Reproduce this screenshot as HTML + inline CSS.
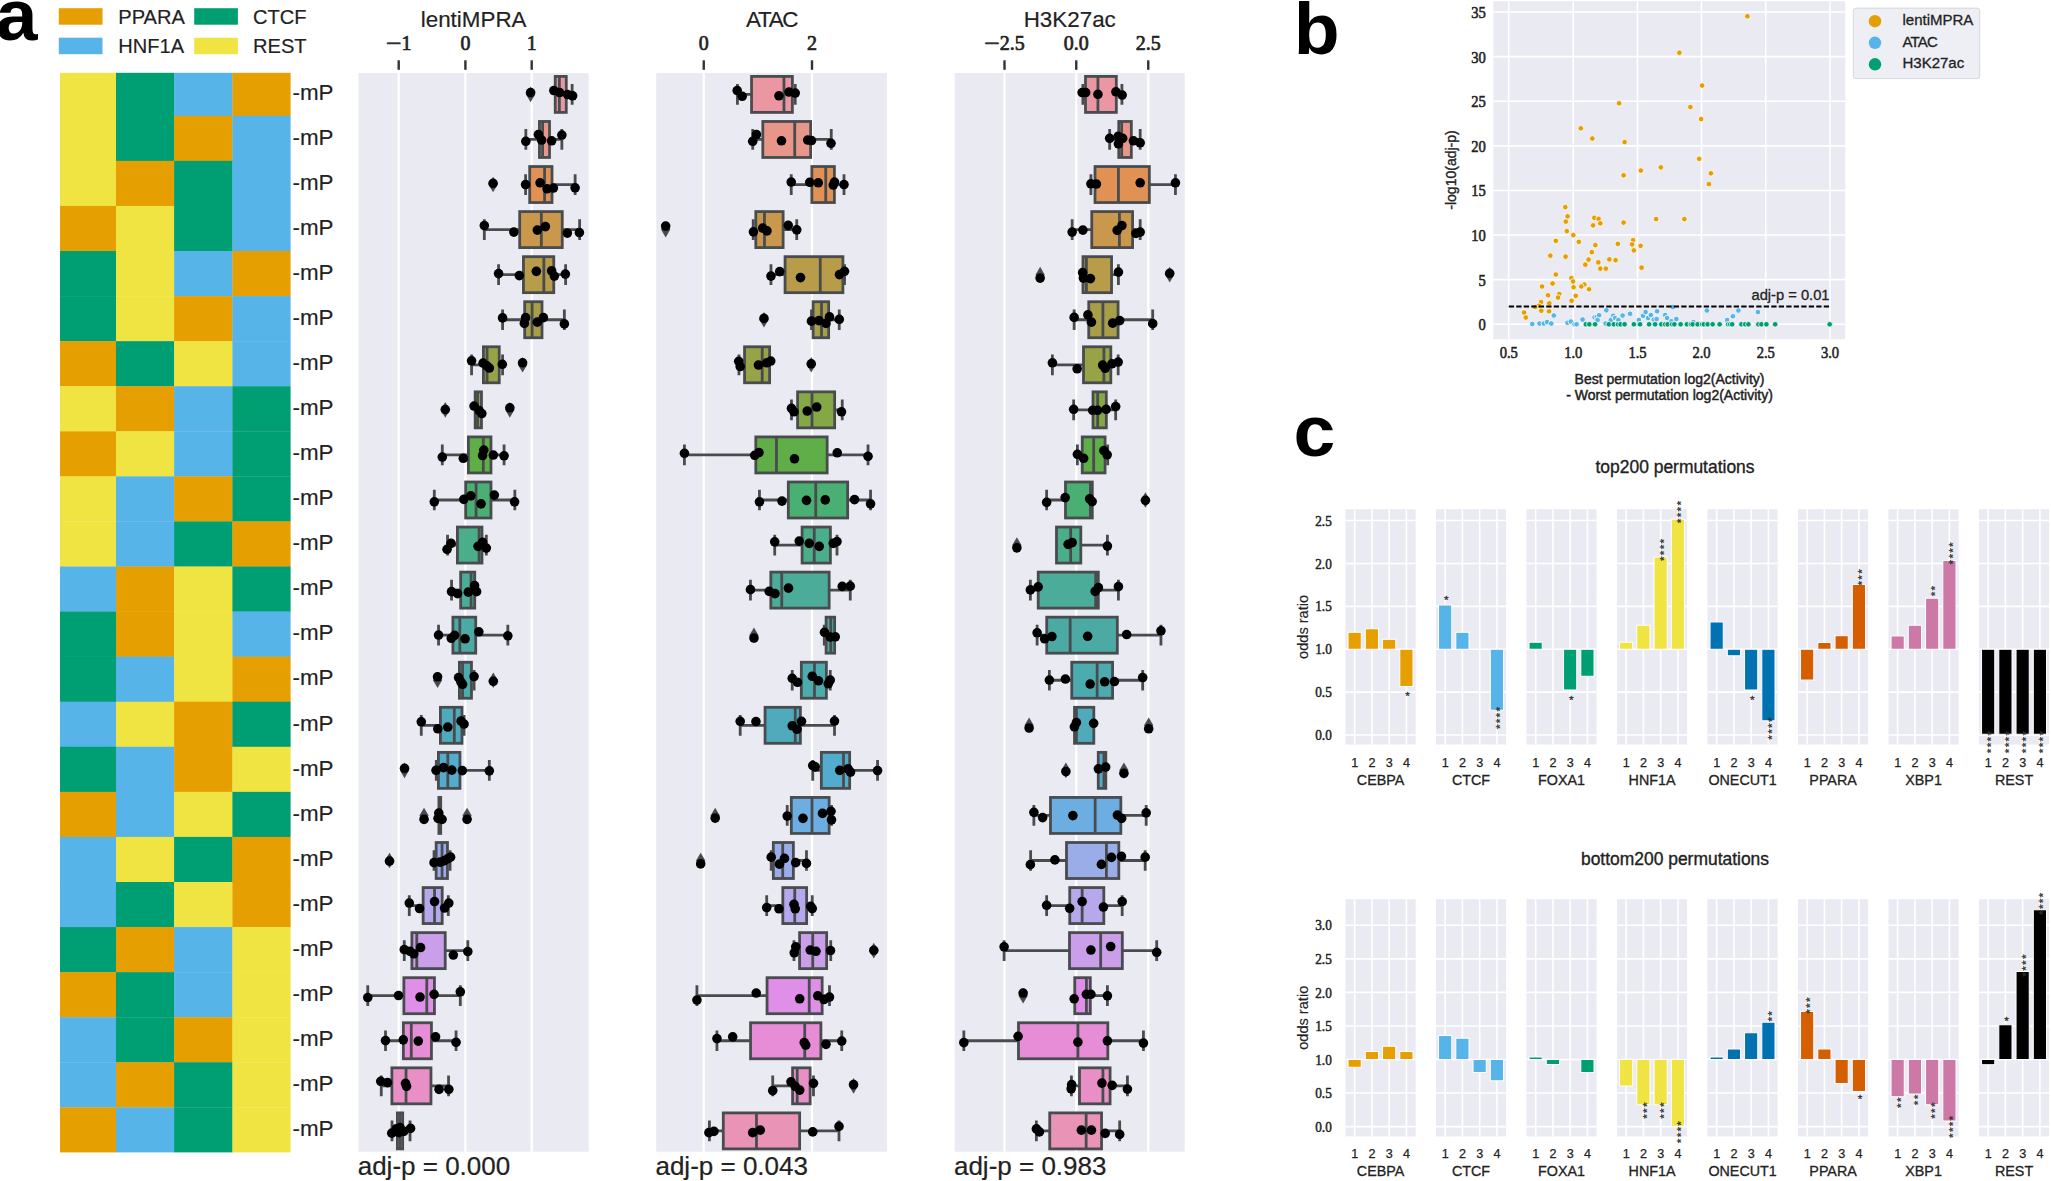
<!DOCTYPE html>
<html lang="en"><head><meta charset="utf-8"><title>Figure</title>
<style>html,body{margin:0;padding:0;background:#fff}svg{display:block}text{white-space:pre}</style>
</head><body>
<svg width="2051" height="1181" viewBox="0 0 2051 1181">
<rect width="2051" height="1181" fill="#ffffff"/>
<text transform="translate(-4.2,40.0) scale(1.05,1)" font-size="71.5" font-weight="bold" font-family="Liberation Sans, Arial, Helvetica, sans-serif" fill="#000">a</text>
<text transform="translate(1293.8,54.0) scale(1.05,1)" font-size="71.5" font-weight="bold" font-family="Liberation Sans, Arial, Helvetica, sans-serif" fill="#000">b</text>
<text transform="translate(1293.6,455.6) scale(1.05,1)" font-size="71.5" font-weight="bold" font-family="Liberation Sans, Arial, Helvetica, sans-serif" fill="#000">c</text>
<rect x="58.8" y="8.2" width="43.7" height="16.5" fill="#E69F00"/>
<rect x="58.8" y="37.7" width="43.7" height="16.5" fill="#56B4E9"/>
<rect x="194.2" y="8.2" width="43.7" height="16.5" fill="#009E73"/>
<rect x="194.2" y="37.7" width="43.7" height="16.5" fill="#F0E442"/>
<text transform="translate(118.30,23.80) scale(1,1.0)" font-size="20.1" text-anchor="start" font-family="Liberation Sans, Arial, Helvetica, sans-serif" fill="#222" stroke="#222" stroke-width="0.16">PPARA</text>
<text transform="translate(118.30,53.00) scale(1,1.0)" font-size="20.1" text-anchor="start" font-family="Liberation Sans, Arial, Helvetica, sans-serif" fill="#222" stroke="#222" stroke-width="0.16">HNF1A</text>
<text transform="translate(253.00,23.80) scale(1,1.0)" font-size="20.1" text-anchor="start" font-family="Liberation Sans, Arial, Helvetica, sans-serif" fill="#222" stroke="#222" stroke-width="0.16">CTCF</text>
<text transform="translate(253.00,53.00) scale(1,1.0)" font-size="20.1" text-anchor="start" font-family="Liberation Sans, Arial, Helvetica, sans-serif" fill="#222" stroke="#222" stroke-width="0.16">REST</text>
<g>
<rect x="60.00" y="72.80" width="56.30" height="43.30" fill="#F0E442"/>
<rect x="116.00" y="72.80" width="58.40" height="43.30" fill="#009E73"/>
<rect x="174.10" y="72.80" width="58.60" height="43.30" fill="#56B4E9"/>
<rect x="232.40" y="72.80" width="58.20" height="43.30" fill="#E69F00"/>
<rect x="60.00" y="115.80" width="56.30" height="45.37" fill="#F0E442"/>
<rect x="116.00" y="115.80" width="58.40" height="45.37" fill="#009E73"/>
<rect x="174.10" y="115.80" width="58.60" height="45.37" fill="#E69F00"/>
<rect x="232.40" y="115.80" width="58.20" height="45.37" fill="#56B4E9"/>
<rect x="60.00" y="160.87" width="56.30" height="45.37" fill="#F0E442"/>
<rect x="116.00" y="160.87" width="58.40" height="45.37" fill="#E69F00"/>
<rect x="174.10" y="160.87" width="58.60" height="45.37" fill="#009E73"/>
<rect x="232.40" y="160.87" width="58.20" height="45.37" fill="#56B4E9"/>
<rect x="60.00" y="205.94" width="56.30" height="45.37" fill="#E69F00"/>
<rect x="116.00" y="205.94" width="58.40" height="45.37" fill="#F0E442"/>
<rect x="174.10" y="205.94" width="58.60" height="45.37" fill="#009E73"/>
<rect x="232.40" y="205.94" width="58.20" height="45.37" fill="#56B4E9"/>
<rect x="60.00" y="251.01" width="56.30" height="45.37" fill="#009E73"/>
<rect x="116.00" y="251.01" width="58.40" height="45.37" fill="#F0E442"/>
<rect x="174.10" y="251.01" width="58.60" height="45.37" fill="#56B4E9"/>
<rect x="232.40" y="251.01" width="58.20" height="45.37" fill="#E69F00"/>
<rect x="60.00" y="296.08" width="56.30" height="45.37" fill="#009E73"/>
<rect x="116.00" y="296.08" width="58.40" height="45.37" fill="#F0E442"/>
<rect x="174.10" y="296.08" width="58.60" height="45.37" fill="#E69F00"/>
<rect x="232.40" y="296.08" width="58.20" height="45.37" fill="#56B4E9"/>
<rect x="60.00" y="341.15" width="56.30" height="45.37" fill="#E69F00"/>
<rect x="116.00" y="341.15" width="58.40" height="45.37" fill="#009E73"/>
<rect x="174.10" y="341.15" width="58.60" height="45.37" fill="#F0E442"/>
<rect x="232.40" y="341.15" width="58.20" height="45.37" fill="#56B4E9"/>
<rect x="60.00" y="386.22" width="56.30" height="45.37" fill="#F0E442"/>
<rect x="116.00" y="386.22" width="58.40" height="45.37" fill="#E69F00"/>
<rect x="174.10" y="386.22" width="58.60" height="45.37" fill="#56B4E9"/>
<rect x="232.40" y="386.22" width="58.20" height="45.37" fill="#009E73"/>
<rect x="60.00" y="431.29" width="56.30" height="45.37" fill="#E69F00"/>
<rect x="116.00" y="431.29" width="58.40" height="45.37" fill="#F0E442"/>
<rect x="174.10" y="431.29" width="58.60" height="45.37" fill="#56B4E9"/>
<rect x="232.40" y="431.29" width="58.20" height="45.37" fill="#009E73"/>
<rect x="60.00" y="476.36" width="56.30" height="45.37" fill="#F0E442"/>
<rect x="116.00" y="476.36" width="58.40" height="45.37" fill="#56B4E9"/>
<rect x="174.10" y="476.36" width="58.60" height="45.37" fill="#E69F00"/>
<rect x="232.40" y="476.36" width="58.20" height="45.37" fill="#009E73"/>
<rect x="60.00" y="521.43" width="56.30" height="45.37" fill="#F0E442"/>
<rect x="116.00" y="521.43" width="58.40" height="45.37" fill="#56B4E9"/>
<rect x="174.10" y="521.43" width="58.60" height="45.37" fill="#009E73"/>
<rect x="232.40" y="521.43" width="58.20" height="45.37" fill="#E69F00"/>
<rect x="60.00" y="566.50" width="56.30" height="45.37" fill="#56B4E9"/>
<rect x="116.00" y="566.50" width="58.40" height="45.37" fill="#E69F00"/>
<rect x="174.10" y="566.50" width="58.60" height="45.37" fill="#F0E442"/>
<rect x="232.40" y="566.50" width="58.20" height="45.37" fill="#009E73"/>
<rect x="60.00" y="611.57" width="56.30" height="45.37" fill="#009E73"/>
<rect x="116.00" y="611.57" width="58.40" height="45.37" fill="#E69F00"/>
<rect x="174.10" y="611.57" width="58.60" height="45.37" fill="#F0E442"/>
<rect x="232.40" y="611.57" width="58.20" height="45.37" fill="#56B4E9"/>
<rect x="60.00" y="656.64" width="56.30" height="45.37" fill="#009E73"/>
<rect x="116.00" y="656.64" width="58.40" height="45.37" fill="#56B4E9"/>
<rect x="174.10" y="656.64" width="58.60" height="45.37" fill="#F0E442"/>
<rect x="232.40" y="656.64" width="58.20" height="45.37" fill="#E69F00"/>
<rect x="60.00" y="701.71" width="56.30" height="45.37" fill="#56B4E9"/>
<rect x="116.00" y="701.71" width="58.40" height="45.37" fill="#F0E442"/>
<rect x="174.10" y="701.71" width="58.60" height="45.37" fill="#E69F00"/>
<rect x="232.40" y="701.71" width="58.20" height="45.37" fill="#009E73"/>
<rect x="60.00" y="746.78" width="56.30" height="45.37" fill="#009E73"/>
<rect x="116.00" y="746.78" width="58.40" height="45.37" fill="#56B4E9"/>
<rect x="174.10" y="746.78" width="58.60" height="45.37" fill="#E69F00"/>
<rect x="232.40" y="746.78" width="58.20" height="45.37" fill="#F0E442"/>
<rect x="60.00" y="791.85" width="56.30" height="45.37" fill="#E69F00"/>
<rect x="116.00" y="791.85" width="58.40" height="45.37" fill="#56B4E9"/>
<rect x="174.10" y="791.85" width="58.60" height="45.37" fill="#F0E442"/>
<rect x="232.40" y="791.85" width="58.20" height="45.37" fill="#009E73"/>
<rect x="60.00" y="836.92" width="56.30" height="45.37" fill="#56B4E9"/>
<rect x="116.00" y="836.92" width="58.40" height="45.37" fill="#F0E442"/>
<rect x="174.10" y="836.92" width="58.60" height="45.37" fill="#009E73"/>
<rect x="232.40" y="836.92" width="58.20" height="45.37" fill="#E69F00"/>
<rect x="60.00" y="881.99" width="56.30" height="45.37" fill="#56B4E9"/>
<rect x="116.00" y="881.99" width="58.40" height="45.37" fill="#009E73"/>
<rect x="174.10" y="881.99" width="58.60" height="45.37" fill="#F0E442"/>
<rect x="232.40" y="881.99" width="58.20" height="45.37" fill="#E69F00"/>
<rect x="60.00" y="927.06" width="56.30" height="45.37" fill="#009E73"/>
<rect x="116.00" y="927.06" width="58.40" height="45.37" fill="#E69F00"/>
<rect x="174.10" y="927.06" width="58.60" height="45.37" fill="#56B4E9"/>
<rect x="232.40" y="927.06" width="58.20" height="45.37" fill="#F0E442"/>
<rect x="60.00" y="972.13" width="56.30" height="45.37" fill="#E69F00"/>
<rect x="116.00" y="972.13" width="58.40" height="45.37" fill="#009E73"/>
<rect x="174.10" y="972.13" width="58.60" height="45.37" fill="#56B4E9"/>
<rect x="232.40" y="972.13" width="58.20" height="45.37" fill="#F0E442"/>
<rect x="60.00" y="1017.20" width="56.30" height="45.37" fill="#56B4E9"/>
<rect x="116.00" y="1017.20" width="58.40" height="45.37" fill="#009E73"/>
<rect x="174.10" y="1017.20" width="58.60" height="45.37" fill="#E69F00"/>
<rect x="232.40" y="1017.20" width="58.20" height="45.37" fill="#F0E442"/>
<rect x="60.00" y="1062.27" width="56.30" height="45.37" fill="#56B4E9"/>
<rect x="116.00" y="1062.27" width="58.40" height="45.37" fill="#E69F00"/>
<rect x="174.10" y="1062.27" width="58.60" height="45.37" fill="#009E73"/>
<rect x="232.40" y="1062.27" width="58.20" height="45.37" fill="#F0E442"/>
<rect x="60.00" y="1107.34" width="56.30" height="45.07" fill="#E69F00"/>
<rect x="116.00" y="1107.34" width="58.40" height="45.07" fill="#56B4E9"/>
<rect x="174.10" y="1107.34" width="58.60" height="45.07" fill="#009E73"/>
<rect x="232.40" y="1107.34" width="58.20" height="45.07" fill="#F0E442"/>
</g>
<text transform="translate(292.50,99.56) scale(1,1.0)" font-size="22.4" text-anchor="start" font-family="Liberation Sans, Arial, Helvetica, sans-serif" fill="#222" stroke="#222" stroke-width="0.18">-mP</text>
<text transform="translate(292.50,144.64) scale(1,1.0)" font-size="22.4" text-anchor="start" font-family="Liberation Sans, Arial, Helvetica, sans-serif" fill="#222" stroke="#222" stroke-width="0.18">-mP</text>
<text transform="translate(292.50,189.71) scale(1,1.0)" font-size="22.4" text-anchor="start" font-family="Liberation Sans, Arial, Helvetica, sans-serif" fill="#222" stroke="#222" stroke-width="0.18">-mP</text>
<text transform="translate(292.50,234.78) scale(1,1.0)" font-size="22.4" text-anchor="start" font-family="Liberation Sans, Arial, Helvetica, sans-serif" fill="#222" stroke="#222" stroke-width="0.18">-mP</text>
<text transform="translate(292.50,279.85) scale(1,1.0)" font-size="22.4" text-anchor="start" font-family="Liberation Sans, Arial, Helvetica, sans-serif" fill="#222" stroke="#222" stroke-width="0.18">-mP</text>
<text transform="translate(292.50,324.92) scale(1,1.0)" font-size="22.4" text-anchor="start" font-family="Liberation Sans, Arial, Helvetica, sans-serif" fill="#222" stroke="#222" stroke-width="0.18">-mP</text>
<text transform="translate(292.50,369.99) scale(1,1.0)" font-size="22.4" text-anchor="start" font-family="Liberation Sans, Arial, Helvetica, sans-serif" fill="#222" stroke="#222" stroke-width="0.18">-mP</text>
<text transform="translate(292.50,415.06) scale(1,1.0)" font-size="22.4" text-anchor="start" font-family="Liberation Sans, Arial, Helvetica, sans-serif" fill="#222" stroke="#222" stroke-width="0.18">-mP</text>
<text transform="translate(292.50,460.12) scale(1,1.0)" font-size="22.4" text-anchor="start" font-family="Liberation Sans, Arial, Helvetica, sans-serif" fill="#222" stroke="#222" stroke-width="0.18">-mP</text>
<text transform="translate(292.50,505.20) scale(1,1.0)" font-size="22.4" text-anchor="start" font-family="Liberation Sans, Arial, Helvetica, sans-serif" fill="#222" stroke="#222" stroke-width="0.18">-mP</text>
<text transform="translate(292.50,550.26) scale(1,1.0)" font-size="22.4" text-anchor="start" font-family="Liberation Sans, Arial, Helvetica, sans-serif" fill="#222" stroke="#222" stroke-width="0.18">-mP</text>
<text transform="translate(292.50,595.33) scale(1,1.0)" font-size="22.4" text-anchor="start" font-family="Liberation Sans, Arial, Helvetica, sans-serif" fill="#222" stroke="#222" stroke-width="0.18">-mP</text>
<text transform="translate(292.50,640.40) scale(1,1.0)" font-size="22.4" text-anchor="start" font-family="Liberation Sans, Arial, Helvetica, sans-serif" fill="#222" stroke="#222" stroke-width="0.18">-mP</text>
<text transform="translate(292.50,685.47) scale(1,1.0)" font-size="22.4" text-anchor="start" font-family="Liberation Sans, Arial, Helvetica, sans-serif" fill="#222" stroke="#222" stroke-width="0.18">-mP</text>
<text transform="translate(292.50,730.54) scale(1,1.0)" font-size="22.4" text-anchor="start" font-family="Liberation Sans, Arial, Helvetica, sans-serif" fill="#222" stroke="#222" stroke-width="0.18">-mP</text>
<text transform="translate(292.50,775.61) scale(1,1.0)" font-size="22.4" text-anchor="start" font-family="Liberation Sans, Arial, Helvetica, sans-serif" fill="#222" stroke="#222" stroke-width="0.18">-mP</text>
<text transform="translate(292.50,820.68) scale(1,1.0)" font-size="22.4" text-anchor="start" font-family="Liberation Sans, Arial, Helvetica, sans-serif" fill="#222" stroke="#222" stroke-width="0.18">-mP</text>
<text transform="translate(292.50,865.75) scale(1,1.0)" font-size="22.4" text-anchor="start" font-family="Liberation Sans, Arial, Helvetica, sans-serif" fill="#222" stroke="#222" stroke-width="0.18">-mP</text>
<text transform="translate(292.50,910.82) scale(1,1.0)" font-size="22.4" text-anchor="start" font-family="Liberation Sans, Arial, Helvetica, sans-serif" fill="#222" stroke="#222" stroke-width="0.18">-mP</text>
<text transform="translate(292.50,955.89) scale(1,1.0)" font-size="22.4" text-anchor="start" font-family="Liberation Sans, Arial, Helvetica, sans-serif" fill="#222" stroke="#222" stroke-width="0.18">-mP</text>
<text transform="translate(292.50,1000.96) scale(1,1.0)" font-size="22.4" text-anchor="start" font-family="Liberation Sans, Arial, Helvetica, sans-serif" fill="#222" stroke="#222" stroke-width="0.18">-mP</text>
<text transform="translate(292.50,1046.04) scale(1,1.0)" font-size="22.4" text-anchor="start" font-family="Liberation Sans, Arial, Helvetica, sans-serif" fill="#222" stroke="#222" stroke-width="0.18">-mP</text>
<text transform="translate(292.50,1091.11) scale(1,1.0)" font-size="22.4" text-anchor="start" font-family="Liberation Sans, Arial, Helvetica, sans-serif" fill="#222" stroke="#222" stroke-width="0.18">-mP</text>
<text transform="translate(292.50,1136.17) scale(1,1.0)" font-size="22.4" text-anchor="start" font-family="Liberation Sans, Arial, Helvetica, sans-serif" fill="#222" stroke="#222" stroke-width="0.18">-mP</text>
<rect x="358.5" y="73" width="230.20000000000005" height="1078.75" fill="#EAEAF2"/>
<line x1="398.7" x2="398.7" y1="73" y2="1151.75" stroke="#fff" stroke-width="2.2"/>
<line x1="398.7" x2="398.7" y1="60.3" y2="69.8" stroke="#333" stroke-width="2.4"/>
<line x1="465.4" x2="465.4" y1="73" y2="1151.75" stroke="#fff" stroke-width="2.2"/>
<line x1="465.4" x2="465.4" y1="60.3" y2="69.8" stroke="#333" stroke-width="2.4"/>
<line x1="531.7" x2="531.7" y1="73" y2="1151.75" stroke="#fff" stroke-width="2.2"/>
<line x1="531.7" x2="531.7" y1="60.3" y2="69.8" stroke="#333" stroke-width="2.4"/>
<text transform="translate(386.01,50.00) scale(1.3,1)" font-size="21" text-anchor="start" font-family="Liberation Serif, Times New Roman, serif" fill="#222" stroke="#222" stroke-width="0.71">−</text>
<text transform="translate(401.41,50.00) scale(0.95,1)" font-size="21" text-anchor="start" font-family="Liberation Serif, Times New Roman, serif" fill="#222" stroke="#222" stroke-width="0.71">1</text>
<text transform="translate(465.40,50.00) scale(0.95,1)" font-size="21" text-anchor="middle" font-family="Liberation Serif, Times New Roman, serif" fill="#222" stroke="#222" stroke-width="0.71">0</text>
<text transform="translate(531.70,50.00) scale(0.95,1)" font-size="21" text-anchor="middle" font-family="Liberation Serif, Times New Roman, serif" fill="#222" stroke="#222" stroke-width="0.71">1</text>
<text transform="translate(473.60,26.80) scale(1,1.0)" font-size="22.4" text-anchor="middle" font-family="Liberation Sans, Arial, Helvetica, sans-serif" fill="#222" stroke="#222" stroke-width="0.18">lentiMPRA</text>
<text transform="translate(357.70,1175.00) scale(1,1.0)" font-size="26.0" text-anchor="start" font-family="Liberation Sans, Arial, Helvetica, sans-serif" fill="#222" stroke="#222" stroke-width="0.21">adj-p = 0.000</text>
<clipPath id="cp358"><rect x="358.5" y="73" width="230.20000000000005" height="1078.75"/></clipPath>
<g>
<path d="M566.26 94.40H572.12M572.12 84.05V104.75" stroke="#494c4e" stroke-width="2.8" fill="none"/>
<rect x="555.21" y="76.40" width="11.06" height="36.0" fill="#ea96a3" stroke="#494c4e" stroke-width="2.8"/>
<path d="M559.36 76.40V112.40" stroke="#494c4e" stroke-width="2.8"/>
<path d="M530.60 86.60L535.20 94.40L530.60 102.20L526.00 94.40Z" fill="#494c4e"/>
<path d="M525.84 139.47H539.45M525.84 129.12V149.81" stroke="#494c4e" stroke-width="2.8" fill="none"/>
<path d="M549.51 139.47H561.86M561.86 129.12V149.81" stroke="#494c4e" stroke-width="2.8" fill="none"/>
<rect x="539.45" y="121.47" width="10.06" height="36.0" fill="#e8968a" stroke="#494c4e" stroke-width="2.8"/>
<path d="M542.60 121.47V157.47" stroke="#494c4e" stroke-width="2.8"/>
<path d="M525.59 184.53H529.69M525.59 174.18V194.88" stroke="#494c4e" stroke-width="2.8" fill="none"/>
<path d="M552.01 184.53H575.12M575.12 174.18V194.88" stroke="#494c4e" stroke-width="2.8" fill="none"/>
<rect x="529.69" y="166.53" width="22.31" height="36.0" fill="#e19153" stroke="#494c4e" stroke-width="2.8"/>
<path d="M544.60 166.53V202.53" stroke="#494c4e" stroke-width="2.8"/>
<path d="M493.08 176.73L497.68 184.53L493.08 192.33L488.48 184.53Z" fill="#494c4e"/>
<path d="M484.32 229.59H519.69M484.32 219.25V239.94" stroke="#494c4e" stroke-width="2.8" fill="none"/>
<path d="M562.26 229.59H579.62M579.62 219.25V239.94" stroke="#494c4e" stroke-width="2.8" fill="none"/>
<rect x="519.69" y="211.59" width="42.57" height="36.0" fill="#ca984c" stroke="#494c4e" stroke-width="2.8"/>
<path d="M541.35 211.59V247.59" stroke="#494c4e" stroke-width="2.8"/>
<path d="M498.58 274.66H523.44M498.58 264.31V285.01" stroke="#494c4e" stroke-width="2.8" fill="none"/>
<path d="M553.76 274.66H565.61M565.61 264.31V285.01" stroke="#494c4e" stroke-width="2.8" fill="none"/>
<rect x="523.44" y="256.66" width="30.32" height="36.0" fill="#b89c49" stroke="#494c4e" stroke-width="2.8"/>
<path d="M543.85 256.66V292.66" stroke="#494c4e" stroke-width="2.8"/>
<path d="M502.58 319.73H524.69M502.58 309.38V330.08" stroke="#494c4e" stroke-width="2.8" fill="none"/>
<path d="M542.00 319.73H564.36M564.36 309.38V330.08" stroke="#494c4e" stroke-width="2.8" fill="none"/>
<rect x="524.69" y="301.73" width="17.31" height="36.0" fill="#a89e47" stroke="#494c4e" stroke-width="2.8"/>
<path d="M532.10 301.73V337.73" stroke="#494c4e" stroke-width="2.8"/>
<path d="M471.57 364.79H483.42M471.57 354.44V375.14" stroke="#494c4e" stroke-width="2.8" fill="none"/>
<path d="M499.23 364.79H502.58M502.58 354.44V375.14" stroke="#494c4e" stroke-width="2.8" fill="none"/>
<rect x="483.42" y="346.79" width="15.81" height="36.0" fill="#98a246" stroke="#494c4e" stroke-width="2.8"/>
<path d="M487.07 346.79V382.79" stroke="#494c4e" stroke-width="2.8"/>
<path d="M522.59 356.99L527.19 364.79L522.59 372.59L517.99 364.79Z" fill="#494c4e"/>
<rect x="475.17" y="391.86" width="6.30" height="36.0" fill="#84a846" stroke="#494c4e" stroke-width="2.8"/>
<path d="M477.57 391.86V427.86" stroke="#494c4e" stroke-width="2.8"/>
<path d="M445.30 402.06L449.90 409.86L445.30 417.66L440.70 409.86Z" fill="#494c4e"/>
<path d="M509.83 402.06L514.43 409.86L509.83 417.66L505.23 409.86Z" fill="#494c4e"/>
<path d="M442.30 454.92H468.41M442.30 444.57V465.27" stroke="#494c4e" stroke-width="2.8" fill="none"/>
<path d="M490.98 454.92H504.08M504.08 444.57V465.27" stroke="#494c4e" stroke-width="2.8" fill="none"/>
<rect x="468.41" y="436.92" width="22.56" height="36.0" fill="#60ae47" stroke="#494c4e" stroke-width="2.8"/>
<path d="M483.32 436.92V472.92" stroke="#494c4e" stroke-width="2.8"/>
<path d="M434.30 499.99H465.66M434.30 489.63V510.34" stroke="#494c4e" stroke-width="2.8" fill="none"/>
<path d="M490.98 499.99H514.84M514.84 489.63V510.34" stroke="#494c4e" stroke-width="2.8" fill="none"/>
<rect x="465.66" y="481.99" width="25.31" height="36.0" fill="#49af72" stroke="#494c4e" stroke-width="2.8"/>
<path d="M476.07 481.99V517.99" stroke="#494c4e" stroke-width="2.8"/>
<path d="M447.55 545.05H457.41M447.55 534.70V555.40" stroke="#494c4e" stroke-width="2.8" fill="none"/>
<path d="M481.97 545.05H486.32M486.32 534.70V555.40" stroke="#494c4e" stroke-width="2.8" fill="none"/>
<rect x="457.41" y="527.05" width="24.56" height="36.0" fill="#4aae8a" stroke="#494c4e" stroke-width="2.8"/>
<path d="M479.07 527.05V563.05" stroke="#494c4e" stroke-width="2.8"/>
<path d="M451.56 590.12H460.66M451.56 579.76V600.47" stroke="#494c4e" stroke-width="2.8" fill="none"/>
<rect x="460.66" y="572.12" width="14.06" height="36.0" fill="#4aac99" stroke="#494c4e" stroke-width="2.8"/>
<path d="M471.07 572.12V608.12" stroke="#494c4e" stroke-width="2.8"/>
<path d="M438.55 635.18H452.91M438.55 624.83V645.53" stroke="#494c4e" stroke-width="2.8" fill="none"/>
<path d="M475.72 635.18H507.83M507.83 624.83V645.53" stroke="#494c4e" stroke-width="2.8" fill="none"/>
<rect x="452.91" y="617.18" width="22.81" height="36.0" fill="#4baba4" stroke="#494c4e" stroke-width="2.8"/>
<path d="M459.81 617.18V653.18" stroke="#494c4e" stroke-width="2.8"/>
<path d="M471.47 680.25H474.07M474.07 669.89V690.60" stroke="#494c4e" stroke-width="2.8" fill="none"/>
<rect x="459.41" y="662.25" width="12.06" height="36.0" fill="#4cabaf" stroke="#494c4e" stroke-width="2.8"/>
<path d="M462.56 662.25V698.25" stroke="#494c4e" stroke-width="2.8"/>
<path d="M437.55 672.45L442.15 680.25L437.55 688.04L432.95 680.25Z" fill="#494c4e"/>
<path d="M493.33 672.45L497.93 680.25L493.33 688.04L488.73 680.25Z" fill="#494c4e"/>
<path d="M421.29 725.31H440.40M421.29 714.96V735.66" stroke="#494c4e" stroke-width="2.8" fill="none"/>
<path d="M461.96 725.31H464.06M464.06 714.96V735.66" stroke="#494c4e" stroke-width="2.8" fill="none"/>
<rect x="440.40" y="707.31" width="21.56" height="36.0" fill="#4fabbc" stroke="#494c4e" stroke-width="2.8"/>
<path d="M454.31 707.31V743.31" stroke="#494c4e" stroke-width="2.8"/>
<path d="M436.30 770.37H438.40M436.30 760.02V780.72" stroke="#494c4e" stroke-width="2.8" fill="none"/>
<path d="M459.96 770.37H489.32M489.32 760.02V780.72" stroke="#494c4e" stroke-width="2.8" fill="none"/>
<rect x="438.40" y="752.37" width="21.56" height="36.0" fill="#53accd" stroke="#494c4e" stroke-width="2.8"/>
<path d="M447.80 752.37V788.37" stroke="#494c4e" stroke-width="2.8"/>
<path d="M404.53 762.57L409.13 770.37L404.53 778.17L399.93 770.37Z" fill="#494c4e"/>
<rect x="438.90" y="797.44" width="1.80" height="36.0" fill="#6daee2" stroke="#494c4e" stroke-width="2.8"/>
<path d="M439.80 797.44V833.44" stroke="#494c4e" stroke-width="2.8"/>
<path d="M424.04 807.64L428.64 815.44L424.04 823.24L419.44 815.44Z" fill="#494c4e"/>
<path d="M467.06 807.64L471.66 815.44L467.06 823.24L462.46 815.44Z" fill="#494c4e"/>
<path d="M434.05 860.50H436.15M434.05 850.15V870.86" stroke="#494c4e" stroke-width="2.8" fill="none"/>
<path d="M447.45 860.50H450.06M450.06 850.15V870.86" stroke="#494c4e" stroke-width="2.8" fill="none"/>
<rect x="436.15" y="842.50" width="11.31" height="36.0" fill="#9bade9" stroke="#494c4e" stroke-width="2.8"/>
<path d="M442.05 842.50V878.50" stroke="#494c4e" stroke-width="2.8"/>
<path d="M389.52 852.71L394.12 860.50L389.52 868.30L384.92 860.50Z" fill="#494c4e"/>
<path d="M409.28 905.57H423.14M409.28 895.22V915.92" stroke="#494c4e" stroke-width="2.8" fill="none"/>
<path d="M442.20 905.57H448.30M448.30 895.22V915.92" stroke="#494c4e" stroke-width="2.8" fill="none"/>
<rect x="423.14" y="887.57" width="19.06" height="36.0" fill="#b6a8eb" stroke="#494c4e" stroke-width="2.8"/>
<path d="M434.55 887.57V923.57" stroke="#494c4e" stroke-width="2.8"/>
<path d="M404.28 950.63H411.89M404.28 940.28V960.98" stroke="#494c4e" stroke-width="2.8" fill="none"/>
<path d="M445.20 950.63H467.81M467.81 940.28V960.98" stroke="#494c4e" stroke-width="2.8" fill="none"/>
<rect x="411.89" y="932.63" width="33.32" height="36.0" fill="#ca9ee9" stroke="#494c4e" stroke-width="2.8"/>
<path d="M416.79 932.63V968.63" stroke="#494c4e" stroke-width="2.8"/>
<path d="M367.76 995.70H403.88M367.76 985.35V1006.05" stroke="#494c4e" stroke-width="2.8" fill="none"/>
<path d="M434.45 995.70H460.31M460.31 985.35V1006.05" stroke="#494c4e" stroke-width="2.8" fill="none"/>
<rect x="403.88" y="977.70" width="30.57" height="36.0" fill="#df8fe7" stroke="#494c4e" stroke-width="2.8"/>
<path d="M426.79 977.70V1013.70" stroke="#494c4e" stroke-width="2.8"/>
<path d="M385.52 1040.77H403.38M385.52 1030.42V1051.12" stroke="#494c4e" stroke-width="2.8" fill="none"/>
<path d="M431.45 1040.77H456.06M456.06 1030.42V1051.12" stroke="#494c4e" stroke-width="2.8" fill="none"/>
<rect x="403.38" y="1022.77" width="28.06" height="36.0" fill="#e78cd7" stroke="#494c4e" stroke-width="2.8"/>
<path d="M411.29 1022.77V1058.77" stroke="#494c4e" stroke-width="2.8"/>
<path d="M381.27 1085.83H391.88M381.27 1075.48V1096.18" stroke="#494c4e" stroke-width="2.8" fill="none"/>
<path d="M430.95 1085.83H448.55M448.55 1075.48V1096.18" stroke="#494c4e" stroke-width="2.8" fill="none"/>
<rect x="391.88" y="1067.83" width="39.07" height="36.0" fill="#e890c6" stroke="#494c4e" stroke-width="2.8"/>
<path d="M406.03 1067.83V1103.83" stroke="#494c4e" stroke-width="2.8"/>
<path d="M392.03 1130.89H397.38M392.03 1120.55V1141.24" stroke="#494c4e" stroke-width="2.8" fill="none"/>
<path d="M402.68 1130.89H410.04M410.04 1120.55V1141.24" stroke="#494c4e" stroke-width="2.8" fill="none"/>
<rect x="397.38" y="1112.89" width="5.30" height="36.0" fill="#e993b6" stroke="#494c4e" stroke-width="2.8"/>
<path d="M400.03 1112.89V1148.89" stroke="#494c4e" stroke-width="2.8"/>
<g fill="#000">
<circle cx="530.60" cy="92.52" r="4.8"/>
<circle cx="553.86" cy="90.52" r="4.8"/>
<circle cx="559.61" cy="92.52" r="4.8"/>
<circle cx="567.61" cy="94.52" r="4.8"/>
<circle cx="572.62" cy="95.77" r="4.8"/>
<circle cx="525.84" cy="141.29" r="4.8"/>
<circle cx="538.35" cy="134.54" r="4.8"/>
<circle cx="541.60" cy="140.04" r="4.8"/>
<circle cx="551.61" cy="140.79" r="4.8"/>
<circle cx="561.86" cy="135.04" r="4.8"/>
<circle cx="493.08" cy="183.31" r="4.8"/>
<circle cx="525.59" cy="184.56" r="4.8"/>
<circle cx="540.10" cy="182.81" r="4.8"/>
<circle cx="547.10" cy="188.81" r="4.8"/>
<circle cx="553.36" cy="188.06" r="4.8"/>
<circle cx="575.12" cy="187.81" r="4.8"/>
<circle cx="484.32" cy="225.58" r="4.8"/>
<circle cx="513.84" cy="232.09" r="4.8"/>
<circle cx="537.35" cy="230.09" r="4.8"/>
<circle cx="545.35" cy="226.58" r="4.8"/>
<circle cx="567.36" cy="233.09" r="4.8"/>
<circle cx="579.37" cy="232.59" r="4.8"/>
<circle cx="498.58" cy="273.61" r="4.8"/>
<circle cx="519.34" cy="275.61" r="4.8"/>
<circle cx="536.35" cy="271.36" r="4.8"/>
<circle cx="551.61" cy="270.86" r="4.8"/>
<circle cx="554.36" cy="276.11" r="4.8"/>
<circle cx="565.36" cy="274.11" r="4.8"/>
<circle cx="502.58" cy="317.88" r="4.8"/>
<circle cx="525.59" cy="317.63" r="4.8"/>
<circle cx="524.34" cy="323.38" r="4.8"/>
<circle cx="537.35" cy="322.13" r="4.8"/>
<circle cx="543.35" cy="317.63" r="4.8"/>
<circle cx="564.36" cy="323.88" r="4.8"/>
<circle cx="522.59" cy="362.77" r="4.8"/>
<circle cx="471.57" cy="360.77" r="4.8"/>
<circle cx="483.07" cy="363.02" r="4.8"/>
<circle cx="486.82" cy="365.77" r="4.8"/>
<circle cx="489.32" cy="368.02" r="4.8"/>
<circle cx="502.33" cy="364.27" r="4.8"/>
<circle cx="445.30" cy="409.54" r="4.8"/>
<circle cx="509.83" cy="407.79" r="4.8"/>
<circle cx="474.07" cy="406.04" r="4.8"/>
<circle cx="479.07" cy="410.54" r="4.8"/>
<circle cx="481.82" cy="413.54" r="4.8"/>
<circle cx="442.30" cy="457.06" r="4.8"/>
<circle cx="463.31" cy="458.31" r="4.8"/>
<circle cx="482.57" cy="455.56" r="4.8"/>
<circle cx="483.82" cy="450.06" r="4.8"/>
<circle cx="493.33" cy="455.06" r="4.8"/>
<circle cx="504.08" cy="455.81" r="4.8"/>
<circle cx="434.30" cy="501.84" r="4.8"/>
<circle cx="463.81" cy="499.33" r="4.8"/>
<circle cx="470.82" cy="495.83" r="4.8"/>
<circle cx="481.07" cy="503.84" r="4.8"/>
<circle cx="494.33" cy="495.08" r="4.8"/>
<circle cx="514.59" cy="501.84" r="4.8"/>
<circle cx="447.05" cy="549.36" r="4.8"/>
<circle cx="451.06" cy="543.36" r="4.8"/>
<circle cx="478.07" cy="546.36" r="4.8"/>
<circle cx="482.57" cy="542.36" r="4.8"/>
<circle cx="486.32" cy="548.11" r="4.8"/>
<circle cx="451.56" cy="591.63" r="4.8"/>
<circle cx="457.56" cy="593.63" r="4.8"/>
<circle cx="468.31" cy="592.13" r="4.8"/>
<circle cx="474.57" cy="585.63" r="4.8"/>
<circle cx="476.57" cy="591.63" r="4.8"/>
<circle cx="438.55" cy="635.02" r="4.8"/>
<circle cx="451.31" cy="638.27" r="4.8"/>
<circle cx="454.56" cy="635.27" r="4.8"/>
<circle cx="465.06" cy="638.77" r="4.8"/>
<circle cx="478.82" cy="631.77" r="4.8"/>
<circle cx="507.83" cy="635.77" r="4.8"/>
<circle cx="437.55" cy="676.79" r="4.8"/>
<circle cx="493.33" cy="681.29" r="4.8"/>
<circle cx="458.56" cy="677.54" r="4.8"/>
<circle cx="460.81" cy="681.79" r="4.8"/>
<circle cx="462.56" cy="684.29" r="4.8"/>
<circle cx="474.07" cy="676.54" r="4.8"/>
<circle cx="421.29" cy="721.81" r="4.8"/>
<circle cx="437.80" cy="728.81" r="4.8"/>
<circle cx="447.80" cy="727.06" r="4.8"/>
<circle cx="461.06" cy="721.06" r="4.8"/>
<circle cx="464.06" cy="724.06" r="4.8"/>
<circle cx="404.53" cy="768.33" r="4.8"/>
<circle cx="436.05" cy="770.34" r="4.8"/>
<circle cx="443.55" cy="767.58" r="4.8"/>
<circle cx="451.81" cy="770.09" r="4.8"/>
<circle cx="462.31" cy="770.59" r="4.8"/>
<circle cx="489.32" cy="770.84" r="4.8"/>
<circle cx="424.04" cy="819.36" r="4.8"/>
<circle cx="467.06" cy="819.36" r="4.8"/>
<circle cx="438.80" cy="813.11" r="4.8"/>
<circle cx="438.05" cy="818.36" r="4.8"/>
<circle cx="442.05" cy="819.36" r="4.8"/>
<circle cx="389.52" cy="861.13" r="4.8"/>
<circle cx="434.05" cy="862.63" r="4.8"/>
<circle cx="440.05" cy="862.13" r="4.8"/>
<circle cx="443.80" cy="860.88" r="4.8"/>
<circle cx="447.55" cy="858.88" r="4.8"/>
<circle cx="450.56" cy="857.13" r="4.8"/>
<circle cx="409.28" cy="903.02" r="4.8"/>
<circle cx="419.54" cy="908.52" r="4.8"/>
<circle cx="434.55" cy="901.52" r="4.8"/>
<circle cx="444.55" cy="908.02" r="4.8"/>
<circle cx="448.80" cy="903.02" r="4.8"/>
<circle cx="404.28" cy="949.54" r="4.8"/>
<circle cx="410.04" cy="951.29" r="4.8"/>
<circle cx="413.79" cy="953.79" r="4.8"/>
<circle cx="420.54" cy="947.54" r="4.8"/>
<circle cx="453.31" cy="955.04" r="4.8"/>
<circle cx="467.81" cy="951.54" r="4.8"/>
<circle cx="367.76" cy="997.56" r="4.8"/>
<circle cx="398.53" cy="995.56" r="4.8"/>
<circle cx="420.04" cy="997.06" r="4.8"/>
<circle cx="434.05" cy="994.31" r="4.8"/>
<circle cx="460.31" cy="991.81" r="4.8"/>
<circle cx="385.52" cy="1040.59" r="4.8"/>
<circle cx="403.28" cy="1039.83" r="4.8"/>
<circle cx="418.29" cy="1041.09" r="4.8"/>
<circle cx="435.55" cy="1036.83" r="4.8"/>
<circle cx="456.06" cy="1042.34" r="4.8"/>
<circle cx="380.77" cy="1081.36" r="4.8"/>
<circle cx="387.52" cy="1082.61" r="4.8"/>
<circle cx="405.53" cy="1083.36" r="4.8"/>
<circle cx="406.53" cy="1086.36" r="4.8"/>
<circle cx="439.05" cy="1089.36" r="4.8"/>
<circle cx="448.80" cy="1089.36" r="4.8"/>
<circle cx="391.78" cy="1133.13" r="4.8"/>
<circle cx="396.28" cy="1128.88" r="4.8"/>
<circle cx="400.03" cy="1127.63" r="4.8"/>
<circle cx="398.78" cy="1132.63" r="4.8"/>
<circle cx="403.78" cy="1131.38" r="4.8"/>
<circle cx="410.54" cy="1128.38" r="4.8"/>
</g></g>
<rect x="656.25" y="73" width="230.75" height="1078.75" fill="#EAEAF2"/>
<line x1="703.75" x2="703.75" y1="73" y2="1151.75" stroke="#fff" stroke-width="2.2"/>
<line x1="703.75" x2="703.75" y1="60.3" y2="69.8" stroke="#333" stroke-width="2.4"/>
<line x1="812.0" x2="812.0" y1="73" y2="1151.75" stroke="#fff" stroke-width="2.2"/>
<line x1="812.0" x2="812.0" y1="60.3" y2="69.8" stroke="#333" stroke-width="2.4"/>
<text transform="translate(703.75,50.00) scale(0.95,1)" font-size="21" text-anchor="middle" font-family="Liberation Serif, Times New Roman, serif" fill="#222" stroke="#222" stroke-width="0.71">0</text>
<text transform="translate(812.00,50.00) scale(0.95,1)" font-size="21" text-anchor="middle" font-family="Liberation Serif, Times New Roman, serif" fill="#222" stroke="#222" stroke-width="0.71">2</text>
<text transform="translate(771.62,26.80) scale(1,1.0)" font-size="22.4" text-anchor="middle" font-family="Liberation Sans, Arial, Helvetica, sans-serif" fill="#222" stroke="#222" stroke-width="0.18" letter-spacing="-1.3">ATAC</text>
<text transform="translate(655.45,1175.00) scale(1,1.0)" font-size="26.0" text-anchor="start" font-family="Liberation Sans, Arial, Helvetica, sans-serif" fill="#222" stroke="#222" stroke-width="0.21">adj-p = 0.043</text>
<clipPath id="cp656"><rect x="656.25" y="73" width="230.75" height="1078.75"/></clipPath>
<g>
<path d="M737.45 94.40H751.56M737.45 84.05V104.75" stroke="#494c4e" stroke-width="2.8" fill="none"/>
<path d="M792.38 94.40H795.23M795.23 84.05V104.75" stroke="#494c4e" stroke-width="2.8" fill="none"/>
<rect x="751.56" y="76.40" width="40.82" height="36.0" fill="#ea96a3" stroke="#494c4e" stroke-width="2.8"/>
<path d="M783.97 76.40V112.40" stroke="#494c4e" stroke-width="2.8"/>
<path d="M752.71 139.47H762.81M752.71 129.12V149.81" stroke="#494c4e" stroke-width="2.8" fill="none"/>
<path d="M810.64 139.47H831.25M831.25 129.12V149.81" stroke="#494c4e" stroke-width="2.8" fill="none"/>
<rect x="762.81" y="121.47" width="47.82" height="36.0" fill="#e8968a" stroke="#494c4e" stroke-width="2.8"/>
<path d="M794.73 121.47V157.47" stroke="#494c4e" stroke-width="2.8"/>
<path d="M791.23 184.53H811.84M791.23 174.18V194.88" stroke="#494c4e" stroke-width="2.8" fill="none"/>
<path d="M834.40 184.53H844.00M844.00 174.18V194.88" stroke="#494c4e" stroke-width="2.8" fill="none"/>
<rect x="811.84" y="166.53" width="22.56" height="36.0" fill="#e19153" stroke="#494c4e" stroke-width="2.8"/>
<path d="M825.74 166.53V202.53" stroke="#494c4e" stroke-width="2.8"/>
<path d="M753.21 229.59H755.81M753.21 219.25V239.94" stroke="#494c4e" stroke-width="2.8" fill="none"/>
<path d="M783.12 229.59H796.73M796.73 219.25V239.94" stroke="#494c4e" stroke-width="2.8" fill="none"/>
<rect x="755.81" y="211.59" width="27.31" height="36.0" fill="#ca984c" stroke="#494c4e" stroke-width="2.8"/>
<path d="M764.46 211.59V247.59" stroke="#494c4e" stroke-width="2.8"/>
<path d="M665.66 221.79L670.26 229.59L665.66 237.40L661.06 229.59Z" fill="#494c4e"/>
<path d="M770.97 274.66H785.07M770.97 264.31V285.01" stroke="#494c4e" stroke-width="2.8" fill="none"/>
<path d="M842.90 274.66H844.53M844.53 264.31V285.01" stroke="#494c4e" stroke-width="2.8" fill="none"/>
<rect x="785.07" y="256.66" width="57.83" height="36.0" fill="#b89c49" stroke="#494c4e" stroke-width="2.8"/>
<path d="M820.24 256.66V292.66" stroke="#494c4e" stroke-width="2.8"/>
<path d="M811.49 319.73H813.09M811.49 309.38V330.08" stroke="#494c4e" stroke-width="2.8" fill="none"/>
<path d="M828.64 319.73H839.25M839.25 309.38V330.08" stroke="#494c4e" stroke-width="2.8" fill="none"/>
<rect x="813.09" y="301.73" width="15.56" height="36.0" fill="#a89e47" stroke="#494c4e" stroke-width="2.8"/>
<path d="M821.49 301.73V337.73" stroke="#494c4e" stroke-width="2.8"/>
<path d="M763.96 311.93L768.56 319.73L763.96 327.53L759.36 319.73Z" fill="#494c4e"/>
<path d="M738.95 364.79H744.55M738.95 354.44V375.14" stroke="#494c4e" stroke-width="2.8" fill="none"/>
<rect x="744.55" y="346.79" width="25.06" height="36.0" fill="#98a246" stroke="#494c4e" stroke-width="2.8"/>
<path d="M762.21 346.79V382.79" stroke="#494c4e" stroke-width="2.8"/>
<path d="M811.24 356.99L815.84 364.79L811.24 372.59L806.64 364.79Z" fill="#494c4e"/>
<path d="M791.48 409.86H797.58M791.48 399.50V420.21" stroke="#494c4e" stroke-width="2.8" fill="none"/>
<path d="M834.65 409.86H842.25M842.25 399.50V420.21" stroke="#494c4e" stroke-width="2.8" fill="none"/>
<rect x="797.58" y="391.86" width="37.07" height="36.0" fill="#84a846" stroke="#494c4e" stroke-width="2.8"/>
<path d="M811.99 391.86V427.86" stroke="#494c4e" stroke-width="2.8"/>
<path d="M684.42 454.92H755.81M684.42 444.57V465.27" stroke="#494c4e" stroke-width="2.8" fill="none"/>
<path d="M827.14 454.92H868.04M868.04 444.57V465.27" stroke="#494c4e" stroke-width="2.8" fill="none"/>
<rect x="755.81" y="436.92" width="71.34" height="36.0" fill="#60ae47" stroke="#494c4e" stroke-width="2.8"/>
<path d="M776.47 436.92V472.92" stroke="#494c4e" stroke-width="2.8"/>
<path d="M759.46 499.99H788.32M759.46 489.63V510.34" stroke="#494c4e" stroke-width="2.8" fill="none"/>
<path d="M847.65 499.99H870.55M870.55 489.63V510.34" stroke="#494c4e" stroke-width="2.8" fill="none"/>
<rect x="788.32" y="481.99" width="59.33" height="36.0" fill="#49af72" stroke="#494c4e" stroke-width="2.8"/>
<path d="M815.74 481.99V517.99" stroke="#494c4e" stroke-width="2.8"/>
<path d="M774.72 545.05H802.08M774.72 534.70V555.40" stroke="#494c4e" stroke-width="2.8" fill="none"/>
<path d="M830.40 545.05H837.00M837.00 534.70V555.40" stroke="#494c4e" stroke-width="2.8" fill="none"/>
<rect x="802.08" y="527.05" width="28.31" height="36.0" fill="#4aae8a" stroke="#494c4e" stroke-width="2.8"/>
<path d="M814.24 527.05V563.05" stroke="#494c4e" stroke-width="2.8"/>
<path d="M750.46 590.12H770.82M750.46 579.76V600.47" stroke="#494c4e" stroke-width="2.8" fill="none"/>
<path d="M829.14 590.12H850.26M850.26 579.76V600.47" stroke="#494c4e" stroke-width="2.8" fill="none"/>
<rect x="770.82" y="572.12" width="58.33" height="36.0" fill="#4aac99" stroke="#494c4e" stroke-width="2.8"/>
<path d="M781.72 572.12V608.12" stroke="#494c4e" stroke-width="2.8"/>
<path d="M824.27 635.18H826.09M824.27 624.83V645.53" stroke="#494c4e" stroke-width="2.8" fill="none"/>
<rect x="826.09" y="617.18" width="8.55" height="36.0" fill="#4baba4" stroke="#494c4e" stroke-width="2.8"/>
<path d="M830.75 617.18V653.18" stroke="#494c4e" stroke-width="2.8"/>
<path d="M753.96 627.38L758.56 635.18L753.96 642.98L749.36 635.18Z" fill="#494c4e"/>
<path d="M792.23 680.25H801.33M792.23 669.89V690.60" stroke="#494c4e" stroke-width="2.8" fill="none"/>
<path d="M826.39 680.25H830.25M830.25 669.89V690.60" stroke="#494c4e" stroke-width="2.8" fill="none"/>
<rect x="801.33" y="662.25" width="25.06" height="36.0" fill="#4cabaf" stroke="#494c4e" stroke-width="2.8"/>
<path d="M814.49 662.25V698.25" stroke="#494c4e" stroke-width="2.8"/>
<path d="M740.20 725.31H765.06M740.20 714.96V735.66" stroke="#494c4e" stroke-width="2.8" fill="none"/>
<path d="M800.38 725.31H834.50M834.50 714.96V735.66" stroke="#494c4e" stroke-width="2.8" fill="none"/>
<rect x="765.06" y="707.31" width="35.32" height="36.0" fill="#4fabbc" stroke="#494c4e" stroke-width="2.8"/>
<path d="M795.23 707.31V743.31" stroke="#494c4e" stroke-width="2.8"/>
<path d="M812.74 770.37H821.34M812.74 760.02V780.72" stroke="#494c4e" stroke-width="2.8" fill="none"/>
<path d="M849.66 770.37H877.55M877.55 760.02V780.72" stroke="#494c4e" stroke-width="2.8" fill="none"/>
<rect x="821.34" y="752.37" width="28.31" height="36.0" fill="#53accd" stroke="#494c4e" stroke-width="2.8"/>
<path d="M843.50 752.37V788.37" stroke="#494c4e" stroke-width="2.8"/>
<path d="M787.22 815.44H791.33M787.22 805.09V825.79" stroke="#494c4e" stroke-width="2.8" fill="none"/>
<path d="M829.14 815.44H831.50M831.50 805.09V825.79" stroke="#494c4e" stroke-width="2.8" fill="none"/>
<rect x="791.33" y="797.44" width="37.82" height="36.0" fill="#6daee2" stroke="#494c4e" stroke-width="2.8"/>
<path d="M811.99 797.44V833.44" stroke="#494c4e" stroke-width="2.8"/>
<path d="M715.19 807.64L719.79 815.44L715.19 823.24L710.59 815.44Z" fill="#494c4e"/>
<path d="M771.22 860.50H773.32M771.22 850.15V870.86" stroke="#494c4e" stroke-width="2.8" fill="none"/>
<path d="M793.38 860.50H806.48M806.48 850.15V870.86" stroke="#494c4e" stroke-width="2.8" fill="none"/>
<rect x="773.32" y="842.50" width="20.06" height="36.0" fill="#9bade9" stroke="#494c4e" stroke-width="2.8"/>
<path d="M782.72 842.50V878.50" stroke="#494c4e" stroke-width="2.8"/>
<path d="M700.68 852.71L705.28 860.50L700.68 868.30L696.08 860.50Z" fill="#494c4e"/>
<path d="M766.71 905.57H782.82M766.71 895.22V915.92" stroke="#494c4e" stroke-width="2.8" fill="none"/>
<path d="M806.63 905.57H812.24M812.24 895.22V915.92" stroke="#494c4e" stroke-width="2.8" fill="none"/>
<rect x="782.82" y="887.57" width="23.81" height="36.0" fill="#b6a8eb" stroke="#494c4e" stroke-width="2.8"/>
<path d="M794.73 887.57V923.57" stroke="#494c4e" stroke-width="2.8"/>
<path d="M793.98 950.63H799.58M793.98 940.28V960.98" stroke="#494c4e" stroke-width="2.8" fill="none"/>
<path d="M826.64 950.63H830.75M830.75 940.28V960.98" stroke="#494c4e" stroke-width="2.8" fill="none"/>
<rect x="799.58" y="932.63" width="27.06" height="36.0" fill="#ca9ee9" stroke="#494c4e" stroke-width="2.8"/>
<path d="M812.74 932.63V968.63" stroke="#494c4e" stroke-width="2.8"/>
<path d="M873.80 942.83L878.40 950.63L873.80 958.43L869.20 950.63Z" fill="#494c4e"/>
<path d="M696.93 995.70H767.06M696.93 985.35V1006.05" stroke="#494c4e" stroke-width="2.8" fill="none"/>
<path d="M822.14 995.70H829.49M829.49 985.35V1006.05" stroke="#494c4e" stroke-width="2.8" fill="none"/>
<rect x="767.06" y="977.70" width="55.08" height="36.0" fill="#df8fe7" stroke="#494c4e" stroke-width="2.8"/>
<path d="M809.23 977.70V1013.70" stroke="#494c4e" stroke-width="2.8"/>
<path d="M716.94 1040.77H750.55M716.94 1030.42V1051.12" stroke="#494c4e" stroke-width="2.8" fill="none"/>
<path d="M820.89 1040.77H841.75M841.75 1030.42V1051.12" stroke="#494c4e" stroke-width="2.8" fill="none"/>
<rect x="750.55" y="1022.77" width="70.34" height="36.0" fill="#e78cd7" stroke="#494c4e" stroke-width="2.8"/>
<path d="M804.73 1022.77V1058.77" stroke="#494c4e" stroke-width="2.8"/>
<path d="M772.72 1085.83H792.58M772.72 1075.48V1096.18" stroke="#494c4e" stroke-width="2.8" fill="none"/>
<path d="M810.14 1085.83H813.49M813.49 1075.48V1096.18" stroke="#494c4e" stroke-width="2.8" fill="none"/>
<rect x="792.58" y="1067.83" width="17.56" height="36.0" fill="#e890c6" stroke="#494c4e" stroke-width="2.8"/>
<path d="M797.23 1067.83V1103.83" stroke="#494c4e" stroke-width="2.8"/>
<path d="M853.54 1078.03L858.14 1085.83L853.54 1093.63L848.94 1085.83Z" fill="#494c4e"/>
<path d="M709.43 1130.89H723.29M709.43 1120.55V1141.24" stroke="#494c4e" stroke-width="2.8" fill="none"/>
<path d="M799.63 1130.89H839.00M839.00 1120.55V1141.24" stroke="#494c4e" stroke-width="2.8" fill="none"/>
<rect x="723.29" y="1112.89" width="76.34" height="36.0" fill="#e993b6" stroke="#494c4e" stroke-width="2.8"/>
<path d="M756.46 1112.89V1148.89" stroke="#494c4e" stroke-width="2.8"/>
<g fill="#000">
<circle cx="737.20" cy="90.52" r="4.8"/>
<circle cx="742.20" cy="96.27" r="4.8"/>
<circle cx="778.97" cy="95.77" r="4.8"/>
<circle cx="788.97" cy="92.02" r="4.8"/>
<circle cx="795.23" cy="93.02" r="4.8"/>
<circle cx="752.71" cy="141.29" r="4.8"/>
<circle cx="756.46" cy="134.54" r="4.8"/>
<circle cx="781.47" cy="140.79" r="4.8"/>
<circle cx="807.73" cy="140.04" r="4.8"/>
<circle cx="811.49" cy="140.54" r="4.8"/>
<circle cx="831.00" cy="143.29" r="4.8"/>
<circle cx="791.23" cy="182.06" r="4.8"/>
<circle cx="809.73" cy="182.31" r="4.8"/>
<circle cx="818.24" cy="182.81" r="4.8"/>
<circle cx="834.50" cy="182.06" r="4.8"/>
<circle cx="833.25" cy="185.06" r="4.8"/>
<circle cx="844.00" cy="184.56" r="4.8"/>
<circle cx="665.66" cy="226.08" r="4.8"/>
<circle cx="753.46" cy="231.84" r="4.8"/>
<circle cx="762.71" cy="228.08" r="4.8"/>
<circle cx="766.96" cy="230.84" r="4.8"/>
<circle cx="788.22" cy="225.33" r="4.8"/>
<circle cx="796.73" cy="229.83" r="4.8"/>
<circle cx="770.97" cy="276.11" r="4.8"/>
<circle cx="779.72" cy="271.61" r="4.8"/>
<circle cx="800.48" cy="277.61" r="4.8"/>
<circle cx="839.50" cy="274.61" r="4.8"/>
<circle cx="844.50" cy="271.36" r="4.8"/>
<circle cx="763.96" cy="318.38" r="4.8"/>
<circle cx="811.49" cy="321.13" r="4.8"/>
<circle cx="818.99" cy="320.63" r="4.8"/>
<circle cx="825.99" cy="323.38" r="4.8"/>
<circle cx="829.49" cy="316.88" r="4.8"/>
<circle cx="839.25" cy="319.38" r="4.8"/>
<circle cx="811.24" cy="363.77" r="4.8"/>
<circle cx="738.70" cy="361.27" r="4.8"/>
<circle cx="740.20" cy="366.52" r="4.8"/>
<circle cx="758.46" cy="365.02" r="4.8"/>
<circle cx="766.71" cy="362.77" r="4.8"/>
<circle cx="770.72" cy="361.02" r="4.8"/>
<circle cx="791.48" cy="408.29" r="4.8"/>
<circle cx="793.98" cy="411.79" r="4.8"/>
<circle cx="807.23" cy="411.04" r="4.8"/>
<circle cx="816.74" cy="407.04" r="4.8"/>
<circle cx="841.50" cy="411.79" r="4.8"/>
<circle cx="684.42" cy="453.31" r="4.8"/>
<circle cx="754.71" cy="455.31" r="4.8"/>
<circle cx="758.96" cy="452.56" r="4.8"/>
<circle cx="794.48" cy="458.81" r="4.8"/>
<circle cx="837.25" cy="452.81" r="4.8"/>
<circle cx="868.04" cy="456.31" r="4.8"/>
<circle cx="759.46" cy="501.84" r="4.8"/>
<circle cx="781.97" cy="501.09" r="4.8"/>
<circle cx="806.48" cy="500.34" r="4.8"/>
<circle cx="825.24" cy="499.83" r="4.8"/>
<circle cx="854.54" cy="499.58" r="4.8"/>
<circle cx="870.55" cy="503.84" r="4.8"/>
<circle cx="774.72" cy="541.86" r="4.8"/>
<circle cx="799.23" cy="541.11" r="4.8"/>
<circle cx="809.23" cy="543.36" r="4.8"/>
<circle cx="819.24" cy="546.36" r="4.8"/>
<circle cx="833.25" cy="543.36" r="4.8"/>
<circle cx="837.00" cy="541.61" r="4.8"/>
<circle cx="750.46" cy="589.63" r="4.8"/>
<circle cx="769.21" cy="591.38" r="4.8"/>
<circle cx="774.97" cy="593.63" r="4.8"/>
<circle cx="788.47" cy="588.13" r="4.8"/>
<circle cx="842.25" cy="586.38" r="4.8"/>
<circle cx="850.26" cy="586.13" r="4.8"/>
<circle cx="753.96" cy="638.02" r="4.8"/>
<circle cx="824.49" cy="632.27" r="4.8"/>
<circle cx="830.25" cy="637.02" r="4.8"/>
<circle cx="835.25" cy="636.77" r="4.8"/>
<circle cx="792.23" cy="678.29" r="4.8"/>
<circle cx="797.48" cy="682.29" r="4.8"/>
<circle cx="812.24" cy="676.29" r="4.8"/>
<circle cx="818.49" cy="680.79" r="4.8"/>
<circle cx="828.24" cy="683.79" r="4.8"/>
<circle cx="830.25" cy="680.04" r="4.8"/>
<circle cx="740.20" cy="721.31" r="4.8"/>
<circle cx="755.96" cy="721.56" r="4.8"/>
<circle cx="792.23" cy="725.81" r="4.8"/>
<circle cx="796.98" cy="729.31" r="4.8"/>
<circle cx="801.48" cy="721.31" r="4.8"/>
<circle cx="834.50" cy="721.06" r="4.8"/>
<circle cx="812.74" cy="765.58" r="4.8"/>
<circle cx="815.24" cy="766.83" r="4.8"/>
<circle cx="839.75" cy="770.34" r="4.8"/>
<circle cx="848.03" cy="768.83" r="4.8"/>
<circle cx="850.54" cy="772.09" r="4.8"/>
<circle cx="877.55" cy="770.59" r="4.8"/>
<circle cx="715.19" cy="818.11" r="4.8"/>
<circle cx="787.22" cy="816.11" r="4.8"/>
<circle cx="802.98" cy="818.36" r="4.8"/>
<circle cx="822.49" cy="813.36" r="4.8"/>
<circle cx="831.00" cy="811.36" r="4.8"/>
<circle cx="831.50" cy="819.86" r="4.8"/>
<circle cx="700.68" cy="863.88" r="4.8"/>
<circle cx="771.22" cy="857.13" r="4.8"/>
<circle cx="779.47" cy="864.13" r="4.8"/>
<circle cx="784.47" cy="858.38" r="4.8"/>
<circle cx="795.73" cy="862.63" r="4.8"/>
<circle cx="806.48" cy="863.38" r="4.8"/>
<circle cx="766.71" cy="907.52" r="4.8"/>
<circle cx="778.97" cy="908.77" r="4.8"/>
<circle cx="793.98" cy="904.27" r="4.8"/>
<circle cx="795.23" cy="908.77" r="4.8"/>
<circle cx="810.74" cy="906.27" r="4.8"/>
<circle cx="812.24" cy="908.52" r="4.8"/>
<circle cx="873.80" cy="950.29" r="4.8"/>
<circle cx="795.73" cy="946.79" r="4.8"/>
<circle cx="794.23" cy="952.79" r="4.8"/>
<circle cx="810.24" cy="950.04" r="4.8"/>
<circle cx="815.99" cy="951.29" r="4.8"/>
<circle cx="830.50" cy="950.54" r="4.8"/>
<circle cx="696.93" cy="1000.07" r="4.8"/>
<circle cx="756.21" cy="993.06" r="4.8"/>
<circle cx="799.73" cy="998.81" r="4.8"/>
<circle cx="817.74" cy="995.81" r="4.8"/>
<circle cx="823.99" cy="999.56" r="4.8"/>
<circle cx="829.49" cy="997.06" r="4.8"/>
<circle cx="716.94" cy="1038.58" r="4.8"/>
<circle cx="732.70" cy="1036.83" r="4.8"/>
<circle cx="804.23" cy="1042.59" r="4.8"/>
<circle cx="805.73" cy="1045.09" r="4.8"/>
<circle cx="825.99" cy="1044.34" r="4.8"/>
<circle cx="841.75" cy="1041.09" r="4.8"/>
<circle cx="853.54" cy="1084.61" r="4.8"/>
<circle cx="772.72" cy="1090.61" r="4.8"/>
<circle cx="790.98" cy="1081.86" r="4.8"/>
<circle cx="795.23" cy="1086.36" r="4.8"/>
<circle cx="799.73" cy="1090.11" r="4.8"/>
<circle cx="813.49" cy="1083.36" r="4.8"/>
<circle cx="708.93" cy="1132.63" r="4.8"/>
<circle cx="713.94" cy="1131.38" r="4.8"/>
<circle cx="752.71" cy="1132.63" r="4.8"/>
<circle cx="760.21" cy="1130.13" r="4.8"/>
<circle cx="812.74" cy="1131.88" r="4.8"/>
<circle cx="839.00" cy="1126.38" r="4.8"/>
</g></g>
<rect x="954.75" y="73" width="230.0" height="1078.75" fill="#EAEAF2"/>
<line x1="1004.5" x2="1004.5" y1="73" y2="1151.75" stroke="#fff" stroke-width="2.2"/>
<line x1="1004.5" x2="1004.5" y1="60.3" y2="69.8" stroke="#333" stroke-width="2.4"/>
<line x1="1076.25" x2="1076.25" y1="73" y2="1151.75" stroke="#fff" stroke-width="2.2"/>
<line x1="1076.25" x2="1076.25" y1="60.3" y2="69.8" stroke="#333" stroke-width="2.4"/>
<line x1="1148.25" x2="1148.25" y1="73" y2="1151.75" stroke="#fff" stroke-width="2.2"/>
<line x1="1148.25" x2="1148.25" y1="60.3" y2="69.8" stroke="#333" stroke-width="2.4"/>
<text transform="translate(984.33,50.00) scale(1.3,1)" font-size="21" text-anchor="start" font-family="Liberation Serif, Times New Roman, serif" fill="#222" stroke="#222" stroke-width="0.71">−</text>
<text transform="translate(999.73,50.00) scale(0.95,1)" font-size="21" text-anchor="start" font-family="Liberation Serif, Times New Roman, serif" fill="#222" stroke="#222" stroke-width="0.71">2.5</text>
<text transform="translate(1076.25,50.00) scale(0.95,1)" font-size="21" text-anchor="middle" font-family="Liberation Serif, Times New Roman, serif" fill="#222" stroke="#222" stroke-width="0.71">0.0</text>
<text transform="translate(1148.25,50.00) scale(0.95,1)" font-size="21" text-anchor="middle" font-family="Liberation Serif, Times New Roman, serif" fill="#222" stroke="#222" stroke-width="0.71">2.5</text>
<text transform="translate(1069.75,26.80) scale(1,1.0)" font-size="22.4" text-anchor="middle" font-family="Liberation Sans, Arial, Helvetica, sans-serif" fill="#222" stroke="#222" stroke-width="0.18">H3K27ac</text>
<text transform="translate(953.95,1175.00) scale(1,1.0)" font-size="26.0" text-anchor="start" font-family="Liberation Sans, Arial, Helvetica, sans-serif" fill="#222" stroke="#222" stroke-width="0.21">adj-p = 0.983</text>
<clipPath id="cp954"><rect x="954.75" y="73" width="230.0" height="1078.75"/></clipPath>
<g>
<path d="M1082.90 94.40H1085.50M1082.90 84.05V104.75" stroke="#494c4e" stroke-width="2.8" fill="none"/>
<path d="M1116.32 94.40H1121.92M1121.92 84.05V104.75" stroke="#494c4e" stroke-width="2.8" fill="none"/>
<rect x="1085.50" y="76.40" width="30.82" height="36.0" fill="#ea96a3" stroke="#494c4e" stroke-width="2.8"/>
<path d="M1097.91 76.40V112.40" stroke="#494c4e" stroke-width="2.8"/>
<path d="M1109.66 139.47H1118.77M1109.66 129.12V149.81" stroke="#494c4e" stroke-width="2.8" fill="none"/>
<path d="M1131.33 139.47H1140.18M1140.18 129.12V149.81" stroke="#494c4e" stroke-width="2.8" fill="none"/>
<rect x="1118.77" y="121.47" width="12.56" height="36.0" fill="#e8968a" stroke="#494c4e" stroke-width="2.8"/>
<path d="M1121.67 121.47V157.47" stroke="#494c4e" stroke-width="2.8"/>
<path d="M1090.91 184.53H1095.01M1090.91 174.18V194.88" stroke="#494c4e" stroke-width="2.8" fill="none"/>
<path d="M1149.33 184.53H1175.45M1175.45 174.18V194.88" stroke="#494c4e" stroke-width="2.8" fill="none"/>
<rect x="1095.01" y="166.53" width="54.33" height="36.0" fill="#e19153" stroke="#494c4e" stroke-width="2.8"/>
<path d="M1118.42 166.53V202.53" stroke="#494c4e" stroke-width="2.8"/>
<path d="M1072.15 229.59H1091.76M1072.15 219.25V239.94" stroke="#494c4e" stroke-width="2.8" fill="none"/>
<path d="M1132.58 229.59H1140.18M1140.18 219.25V239.94" stroke="#494c4e" stroke-width="2.8" fill="none"/>
<rect x="1091.76" y="211.59" width="40.82" height="36.0" fill="#ca984c" stroke="#494c4e" stroke-width="2.8"/>
<path d="M1119.42 211.59V247.59" stroke="#494c4e" stroke-width="2.8"/>
<path d="M1111.57 274.66H1118.42M1118.42 264.31V285.01" stroke="#494c4e" stroke-width="2.8" fill="none"/>
<rect x="1083.00" y="256.66" width="28.56" height="36.0" fill="#b89c49" stroke="#494c4e" stroke-width="2.8"/>
<path d="M1086.40 256.66V292.66" stroke="#494c4e" stroke-width="2.8"/>
<path d="M1040.13 266.86L1044.73 274.66L1040.13 282.46L1035.53 274.66Z" fill="#494c4e"/>
<path d="M1169.69 266.86L1174.29 274.66L1169.69 282.46L1165.09 274.66Z" fill="#494c4e"/>
<path d="M1074.15 319.73H1088.75M1074.15 309.38V330.08" stroke="#494c4e" stroke-width="2.8" fill="none"/>
<path d="M1118.07 319.73H1152.69M1152.69 309.38V330.08" stroke="#494c4e" stroke-width="2.8" fill="none"/>
<rect x="1088.75" y="301.73" width="29.32" height="36.0" fill="#a89e47" stroke="#494c4e" stroke-width="2.8"/>
<path d="M1102.91 301.73V337.73" stroke="#494c4e" stroke-width="2.8"/>
<path d="M1052.39 364.79H1083.50M1052.39 354.44V375.14" stroke="#494c4e" stroke-width="2.8" fill="none"/>
<path d="M1110.82 364.79H1118.17M1118.17 354.44V375.14" stroke="#494c4e" stroke-width="2.8" fill="none"/>
<rect x="1083.50" y="346.79" width="27.31" height="36.0" fill="#98a246" stroke="#494c4e" stroke-width="2.8"/>
<path d="M1103.91 346.79V382.79" stroke="#494c4e" stroke-width="2.8"/>
<path d="M1073.65 409.86H1093.01M1073.65 399.50V420.21" stroke="#494c4e" stroke-width="2.8" fill="none"/>
<path d="M1106.31 409.86H1115.67M1115.67 399.50V420.21" stroke="#494c4e" stroke-width="2.8" fill="none"/>
<rect x="1093.01" y="391.86" width="13.31" height="36.0" fill="#84a846" stroke="#494c4e" stroke-width="2.8"/>
<path d="M1097.66 391.86V427.86" stroke="#494c4e" stroke-width="2.8"/>
<path d="M1077.40 454.92H1082.25M1077.40 444.57V465.27" stroke="#494c4e" stroke-width="2.8" fill="none"/>
<path d="M1105.06 454.92H1107.66M1107.66 444.57V465.27" stroke="#494c4e" stroke-width="2.8" fill="none"/>
<rect x="1082.25" y="436.92" width="22.81" height="36.0" fill="#60ae47" stroke="#494c4e" stroke-width="2.8"/>
<path d="M1093.66 436.92V472.92" stroke="#494c4e" stroke-width="2.8"/>
<path d="M1046.63 499.99H1065.49M1046.63 489.63V510.34" stroke="#494c4e" stroke-width="2.8" fill="none"/>
<rect x="1065.49" y="481.99" width="26.81" height="36.0" fill="#49af72" stroke="#494c4e" stroke-width="2.8"/>
<path d="M1090.41 481.99V517.99" stroke="#494c4e" stroke-width="2.8"/>
<path d="M1145.43 492.19L1150.03 499.99L1145.43 507.79L1140.83 499.99Z" fill="#494c4e"/>
<path d="M1080.80 545.05H1107.41M1107.41 534.70V555.40" stroke="#494c4e" stroke-width="2.8" fill="none"/>
<rect x="1056.49" y="527.05" width="24.31" height="36.0" fill="#4aae8a" stroke="#494c4e" stroke-width="2.8"/>
<path d="M1070.65 527.05V563.05" stroke="#494c4e" stroke-width="2.8"/>
<path d="M1016.87 537.25L1021.47 545.05L1016.87 552.85L1012.27 545.05Z" fill="#494c4e"/>
<path d="M1030.38 590.12H1038.23M1030.38 579.76V600.47" stroke="#494c4e" stroke-width="2.8" fill="none"/>
<path d="M1098.31 590.12H1118.42M1118.42 579.76V600.47" stroke="#494c4e" stroke-width="2.8" fill="none"/>
<rect x="1038.23" y="572.12" width="60.08" height="36.0" fill="#4aac99" stroke="#494c4e" stroke-width="2.8"/>
<path d="M1095.66 572.12V608.12" stroke="#494c4e" stroke-width="2.8"/>
<path d="M1037.13 635.18H1046.73M1037.13 624.83V645.53" stroke="#494c4e" stroke-width="2.8" fill="none"/>
<path d="M1117.32 635.18H1160.94M1160.94 624.83V645.53" stroke="#494c4e" stroke-width="2.8" fill="none"/>
<rect x="1046.73" y="617.18" width="70.59" height="36.0" fill="#4baba4" stroke="#494c4e" stroke-width="2.8"/>
<path d="M1070.15 617.18V653.18" stroke="#494c4e" stroke-width="2.8"/>
<path d="M1049.38 680.25H1071.75M1049.38 669.89V690.60" stroke="#494c4e" stroke-width="2.8" fill="none"/>
<path d="M1112.57 680.25H1142.68M1142.68 669.89V690.60" stroke="#494c4e" stroke-width="2.8" fill="none"/>
<rect x="1071.75" y="662.25" width="40.82" height="36.0" fill="#4cabaf" stroke="#494c4e" stroke-width="2.8"/>
<path d="M1097.16 662.25V698.25" stroke="#494c4e" stroke-width="2.8"/>
<rect x="1074.50" y="707.31" width="19.31" height="36.0" fill="#4fabbc" stroke="#494c4e" stroke-width="2.8"/>
<path d="M1076.40 707.31V743.31" stroke="#494c4e" stroke-width="2.8"/>
<path d="M1029.12 717.51L1033.72 725.31L1029.12 733.11L1024.52 725.31Z" fill="#494c4e"/>
<path d="M1148.68 717.51L1153.28 725.31L1148.68 733.11L1144.08 725.31Z" fill="#494c4e"/>
<rect x="1098.26" y="752.37" width="7.55" height="36.0" fill="#53accd" stroke="#494c4e" stroke-width="2.8"/>
<path d="M1103.91 752.37V788.37" stroke="#494c4e" stroke-width="2.8"/>
<path d="M1065.89 762.57L1070.49 770.37L1065.89 778.17L1061.29 770.37Z" fill="#494c4e"/>
<path d="M1123.92 762.57L1128.52 770.37L1123.92 778.17L1119.32 770.37Z" fill="#494c4e"/>
<path d="M1033.88 815.44H1050.48M1033.88 805.09V825.79" stroke="#494c4e" stroke-width="2.8" fill="none"/>
<path d="M1120.82 815.44H1146.18M1146.18 805.09V825.79" stroke="#494c4e" stroke-width="2.8" fill="none"/>
<rect x="1050.48" y="797.44" width="70.34" height="36.0" fill="#6daee2" stroke="#494c4e" stroke-width="2.8"/>
<path d="M1095.16 797.44V833.44" stroke="#494c4e" stroke-width="2.8"/>
<path d="M1030.63 860.50H1066.49M1030.63 850.15V870.86" stroke="#494c4e" stroke-width="2.8" fill="none"/>
<path d="M1118.82 860.50H1145.18M1145.18 850.15V870.86" stroke="#494c4e" stroke-width="2.8" fill="none"/>
<rect x="1066.49" y="842.50" width="52.33" height="36.0" fill="#9bade9" stroke="#494c4e" stroke-width="2.8"/>
<path d="M1106.41 842.50V878.50" stroke="#494c4e" stroke-width="2.8"/>
<path d="M1046.63 905.57H1069.74M1046.63 895.22V915.92" stroke="#494c4e" stroke-width="2.8" fill="none"/>
<path d="M1103.81 905.57H1122.17M1122.17 895.22V915.92" stroke="#494c4e" stroke-width="2.8" fill="none"/>
<rect x="1069.74" y="887.57" width="34.07" height="36.0" fill="#b6a8eb" stroke="#494c4e" stroke-width="2.8"/>
<path d="M1082.15 887.57V923.57" stroke="#494c4e" stroke-width="2.8"/>
<path d="M1004.11 950.63H1069.49M1004.11 940.28V960.98" stroke="#494c4e" stroke-width="2.8" fill="none"/>
<path d="M1122.32 950.63H1156.69M1156.69 940.28V960.98" stroke="#494c4e" stroke-width="2.8" fill="none"/>
<rect x="1069.49" y="932.63" width="52.83" height="36.0" fill="#ca9ee9" stroke="#494c4e" stroke-width="2.8"/>
<path d="M1100.66 932.63V968.63" stroke="#494c4e" stroke-width="2.8"/>
<path d="M1090.31 995.70H1107.41M1107.41 985.35V1006.05" stroke="#494c4e" stroke-width="2.8" fill="none"/>
<rect x="1074.75" y="977.70" width="15.56" height="36.0" fill="#df8fe7" stroke="#494c4e" stroke-width="2.8"/>
<path d="M1086.40 977.70V1013.70" stroke="#494c4e" stroke-width="2.8"/>
<path d="M1023.12 987.90L1027.72 995.70L1023.12 1003.50L1018.52 995.70Z" fill="#494c4e"/>
<path d="M963.84 1040.77H1018.47M963.84 1030.42V1051.12" stroke="#494c4e" stroke-width="2.8" fill="none"/>
<path d="M1107.81 1040.77H1143.43M1143.43 1030.42V1051.12" stroke="#494c4e" stroke-width="2.8" fill="none"/>
<rect x="1018.47" y="1022.77" width="89.35" height="36.0" fill="#e78cd7" stroke="#494c4e" stroke-width="2.8"/>
<path d="M1077.90 1022.77V1058.77" stroke="#494c4e" stroke-width="2.8"/>
<path d="M1071.40 1085.83H1079.50M1071.40 1075.48V1096.18" stroke="#494c4e" stroke-width="2.8" fill="none"/>
<path d="M1110.07 1085.83H1127.42M1127.42 1075.48V1096.18" stroke="#494c4e" stroke-width="2.8" fill="none"/>
<rect x="1079.50" y="1067.83" width="30.57" height="36.0" fill="#e890c6" stroke="#494c4e" stroke-width="2.8"/>
<path d="M1102.91 1067.83V1103.83" stroke="#494c4e" stroke-width="2.8"/>
<path d="M1036.38 1130.89H1049.73M1036.38 1120.55V1141.24" stroke="#494c4e" stroke-width="2.8" fill="none"/>
<path d="M1101.56 1130.89H1119.67M1119.67 1120.55V1141.24" stroke="#494c4e" stroke-width="2.8" fill="none"/>
<rect x="1049.73" y="1112.89" width="51.83" height="36.0" fill="#e993b6" stroke="#494c4e" stroke-width="2.8"/>
<path d="M1086.15 1112.89V1148.89" stroke="#494c4e" stroke-width="2.8"/>
<g fill="#000">
<circle cx="1082.15" cy="92.52" r="4.8"/>
<circle cx="1085.65" cy="92.52" r="4.8"/>
<circle cx="1097.91" cy="94.27" r="4.8"/>
<circle cx="1115.92" cy="91.77" r="4.8"/>
<circle cx="1122.17" cy="95.02" r="4.8"/>
<circle cx="1109.66" cy="138.29" r="4.8"/>
<circle cx="1118.17" cy="136.29" r="4.8"/>
<circle cx="1122.67" cy="138.29" r="4.8"/>
<circle cx="1118.42" cy="143.79" r="4.8"/>
<circle cx="1133.43" cy="140.79" r="4.8"/>
<circle cx="1140.18" cy="142.79" r="4.8"/>
<circle cx="1090.91" cy="183.81" r="4.8"/>
<circle cx="1096.41" cy="184.06" r="4.8"/>
<circle cx="1140.18" cy="182.81" r="4.8"/>
<circle cx="1175.45" cy="182.81" r="4.8"/>
<circle cx="1072.15" cy="232.09" r="4.8"/>
<circle cx="1082.90" cy="230.09" r="4.8"/>
<circle cx="1117.17" cy="230.34" r="4.8"/>
<circle cx="1121.92" cy="225.58" r="4.8"/>
<circle cx="1135.93" cy="233.34" r="4.8"/>
<circle cx="1140.18" cy="232.09" r="4.8"/>
<circle cx="1040.13" cy="278.11" r="4.8"/>
<circle cx="1169.69" cy="273.36" r="4.8"/>
<circle cx="1082.65" cy="272.61" r="4.8"/>
<circle cx="1083.40" cy="278.11" r="4.8"/>
<circle cx="1090.41" cy="278.61" r="4.8"/>
<circle cx="1118.42" cy="272.11" r="4.8"/>
<circle cx="1074.15" cy="317.38" r="4.8"/>
<circle cx="1087.90" cy="314.88" r="4.8"/>
<circle cx="1091.41" cy="322.13" r="4.8"/>
<circle cx="1112.67" cy="323.13" r="4.8"/>
<circle cx="1119.67" cy="320.63" r="4.8"/>
<circle cx="1152.69" cy="323.63" r="4.8"/>
<circle cx="1052.39" cy="362.77" r="4.8"/>
<circle cx="1077.15" cy="368.77" r="4.8"/>
<circle cx="1102.66" cy="365.02" r="4.8"/>
<circle cx="1105.16" cy="368.27" r="4.8"/>
<circle cx="1111.92" cy="363.77" r="4.8"/>
<circle cx="1118.17" cy="362.02" r="4.8"/>
<circle cx="1073.65" cy="409.29" r="4.8"/>
<circle cx="1092.66" cy="410.29" r="4.8"/>
<circle cx="1097.66" cy="410.29" r="4.8"/>
<circle cx="1106.16" cy="409.29" r="4.8"/>
<circle cx="1115.67" cy="406.54" r="4.8"/>
<circle cx="1077.40" cy="454.31" r="4.8"/>
<circle cx="1083.65" cy="458.31" r="4.8"/>
<circle cx="1103.91" cy="450.56" r="4.8"/>
<circle cx="1107.16" cy="454.81" r="4.8"/>
<circle cx="1145.43" cy="500.34" r="4.8"/>
<circle cx="1046.63" cy="502.34" r="4.8"/>
<circle cx="1065.14" cy="497.58" r="4.8"/>
<circle cx="1089.65" cy="498.83" r="4.8"/>
<circle cx="1092.16" cy="501.59" r="4.8"/>
<circle cx="1016.87" cy="547.86" r="4.8"/>
<circle cx="1068.14" cy="544.36" r="4.8"/>
<circle cx="1072.15" cy="542.61" r="4.8"/>
<circle cx="1107.41" cy="546.11" r="4.8"/>
<circle cx="1030.38" cy="589.88" r="4.8"/>
<circle cx="1038.13" cy="586.88" r="4.8"/>
<circle cx="1095.16" cy="591.38" r="4.8"/>
<circle cx="1098.41" cy="587.63" r="4.8"/>
<circle cx="1118.42" cy="586.63" r="4.8"/>
<circle cx="1037.13" cy="632.77" r="4.8"/>
<circle cx="1044.63" cy="638.77" r="4.8"/>
<circle cx="1051.89" cy="636.52" r="4.8"/>
<circle cx="1087.65" cy="636.27" r="4.8"/>
<circle cx="1126.67" cy="634.52" r="4.8"/>
<circle cx="1160.94" cy="630.77" r="4.8"/>
<circle cx="1049.38" cy="680.04" r="4.8"/>
<circle cx="1065.39" cy="679.04" r="4.8"/>
<circle cx="1090.16" cy="684.04" r="4.8"/>
<circle cx="1104.66" cy="681.79" r="4.8"/>
<circle cx="1114.42" cy="681.54" r="4.8"/>
<circle cx="1142.68" cy="677.54" r="4.8"/>
<circle cx="1029.12" cy="728.06" r="4.8"/>
<circle cx="1148.68" cy="728.81" r="4.8"/>
<circle cx="1074.40" cy="726.81" r="4.8"/>
<circle cx="1076.40" cy="722.56" r="4.8"/>
<circle cx="1093.66" cy="723.31" r="4.8"/>
<circle cx="1065.89" cy="771.59" r="4.8"/>
<circle cx="1123.92" cy="773.34" r="4.8"/>
<circle cx="1098.41" cy="768.83" r="4.8"/>
<circle cx="1105.66" cy="767.08" r="4.8"/>
<circle cx="1033.88" cy="812.36" r="4.8"/>
<circle cx="1042.63" cy="817.61" r="4.8"/>
<circle cx="1072.90" cy="815.61" r="4.8"/>
<circle cx="1117.42" cy="815.11" r="4.8"/>
<circle cx="1121.67" cy="818.36" r="4.8"/>
<circle cx="1146.18" cy="812.86" r="4.8"/>
<circle cx="1030.38" cy="864.63" r="4.8"/>
<circle cx="1054.89" cy="859.88" r="4.8"/>
<circle cx="1101.41" cy="864.38" r="4.8"/>
<circle cx="1111.42" cy="857.38" r="4.8"/>
<circle cx="1121.42" cy="856.38" r="4.8"/>
<circle cx="1145.18" cy="857.13" r="4.8"/>
<circle cx="1046.63" cy="905.27" r="4.8"/>
<circle cx="1069.64" cy="908.27" r="4.8"/>
<circle cx="1082.15" cy="901.52" r="4.8"/>
<circle cx="1103.41" cy="907.02" r="4.8"/>
<circle cx="1122.17" cy="901.52" r="4.8"/>
<circle cx="1004.11" cy="946.79" r="4.8"/>
<circle cx="1090.91" cy="950.04" r="4.8"/>
<circle cx="1110.67" cy="946.54" r="4.8"/>
<circle cx="1156.69" cy="952.29" r="4.8"/>
<circle cx="1023.12" cy="993.06" r="4.8"/>
<circle cx="1074.15" cy="998.81" r="4.8"/>
<circle cx="1086.40" cy="994.31" r="4.8"/>
<circle cx="1090.91" cy="994.31" r="4.8"/>
<circle cx="1107.41" cy="995.81" r="4.8"/>
<circle cx="963.84" cy="1042.59" r="4.8"/>
<circle cx="1018.12" cy="1036.33" r="4.8"/>
<circle cx="1077.90" cy="1042.09" r="4.8"/>
<circle cx="1107.41" cy="1040.84" r="4.8"/>
<circle cx="1143.43" cy="1043.09" r="4.8"/>
<circle cx="1071.65" cy="1084.61" r="4.8"/>
<circle cx="1071.15" cy="1088.86" r="4.8"/>
<circle cx="1101.91" cy="1083.11" r="4.8"/>
<circle cx="1112.17" cy="1085.36" r="4.8"/>
<circle cx="1127.42" cy="1089.11" r="4.8"/>
<circle cx="1036.38" cy="1128.88" r="4.8"/>
<circle cx="1039.38" cy="1131.88" r="4.8"/>
<circle cx="1081.40" cy="1130.13" r="4.8"/>
<circle cx="1091.41" cy="1130.13" r="4.8"/>
<circle cx="1105.16" cy="1133.38" r="4.8"/>
<circle cx="1119.67" cy="1134.38" r="4.8"/>
</g></g>
<rect x="1493.3" y="1.2" width="351.9000000000001" height="338.05" fill="#EAEAF2"/>
<line x1="1508.75" x2="1508.75" y1="1.2" y2="339.25" stroke="#fff" stroke-width="1.6"/>
<text transform="translate(1508.75,358.20) scale(0.87,1)" font-size="16.8" text-anchor="middle" font-family="Liberation Serif, Times New Roman, serif" fill="#222" stroke="#222" stroke-width="0.57">0.5</text>
<line x1="1573.25" x2="1573.25" y1="1.2" y2="339.25" stroke="#fff" stroke-width="1.6"/>
<text transform="translate(1573.25,358.20) scale(0.87,1)" font-size="16.8" text-anchor="middle" font-family="Liberation Serif, Times New Roman, serif" fill="#222" stroke="#222" stroke-width="0.57">1.0</text>
<line x1="1637.5" x2="1637.5" y1="1.2" y2="339.25" stroke="#fff" stroke-width="1.6"/>
<text transform="translate(1637.50,358.20) scale(0.87,1)" font-size="16.8" text-anchor="middle" font-family="Liberation Serif, Times New Roman, serif" fill="#222" stroke="#222" stroke-width="0.57">1.5</text>
<line x1="1701.5" x2="1701.5" y1="1.2" y2="339.25" stroke="#fff" stroke-width="1.6"/>
<text transform="translate(1701.50,358.20) scale(0.87,1)" font-size="16.8" text-anchor="middle" font-family="Liberation Serif, Times New Roman, serif" fill="#222" stroke="#222" stroke-width="0.57">2.0</text>
<line x1="1765.75" x2="1765.75" y1="1.2" y2="339.25" stroke="#fff" stroke-width="1.6"/>
<text transform="translate(1765.75,358.20) scale(0.87,1)" font-size="16.8" text-anchor="middle" font-family="Liberation Serif, Times New Roman, serif" fill="#222" stroke="#222" stroke-width="0.57">2.5</text>
<line x1="1830.0" x2="1830.0" y1="1.2" y2="339.25" stroke="#fff" stroke-width="1.6"/>
<text transform="translate(1830.00,358.20) scale(0.87,1)" font-size="16.8" text-anchor="middle" font-family="Liberation Serif, Times New Roman, serif" fill="#222" stroke="#222" stroke-width="0.57">3.0</text>
<line x1="1493.3" x2="1845.2" y1="324.25" y2="324.25" stroke="#fff" stroke-width="1.6"/>
<text transform="translate(1485.80,330.15) scale(0.87,1)" font-size="16.8" text-anchor="end" font-family="Liberation Serif, Times New Roman, serif" fill="#222" stroke="#222" stroke-width="0.57">0</text>
<line x1="1493.3" x2="1845.2" y1="279.65" y2="279.65" stroke="#fff" stroke-width="1.6"/>
<text transform="translate(1485.80,285.55) scale(0.87,1)" font-size="16.8" text-anchor="end" font-family="Liberation Serif, Times New Roman, serif" fill="#222" stroke="#222" stroke-width="0.57">5</text>
<line x1="1493.3" x2="1845.2" y1="235.05" y2="235.05" stroke="#fff" stroke-width="1.6"/>
<text transform="translate(1485.80,240.95) scale(0.87,1)" font-size="16.8" text-anchor="end" font-family="Liberation Serif, Times New Roman, serif" fill="#222" stroke="#222" stroke-width="0.57">10</text>
<line x1="1493.3" x2="1845.2" y1="190.45" y2="190.45" stroke="#fff" stroke-width="1.6"/>
<text transform="translate(1485.80,196.35) scale(0.87,1)" font-size="16.8" text-anchor="end" font-family="Liberation Serif, Times New Roman, serif" fill="#222" stroke="#222" stroke-width="0.57">15</text>
<line x1="1493.3" x2="1845.2" y1="145.85" y2="145.85" stroke="#fff" stroke-width="1.6"/>
<text transform="translate(1485.80,151.75) scale(0.87,1)" font-size="16.8" text-anchor="end" font-family="Liberation Serif, Times New Roman, serif" fill="#222" stroke="#222" stroke-width="0.57">20</text>
<line x1="1493.3" x2="1845.2" y1="101.25" y2="101.25" stroke="#fff" stroke-width="1.6"/>
<text transform="translate(1485.80,107.15) scale(0.87,1)" font-size="16.8" text-anchor="end" font-family="Liberation Serif, Times New Roman, serif" fill="#222" stroke="#222" stroke-width="0.57">25</text>
<line x1="1493.3" x2="1845.2" y1="56.65" y2="56.65" stroke="#fff" stroke-width="1.6"/>
<text transform="translate(1485.80,62.55) scale(0.87,1)" font-size="16.8" text-anchor="end" font-family="Liberation Serif, Times New Roman, serif" fill="#222" stroke="#222" stroke-width="0.57">30</text>
<line x1="1493.3" x2="1845.2" y1="12.05" y2="12.05" stroke="#fff" stroke-width="1.6"/>
<text transform="translate(1485.80,17.95) scale(0.87,1)" font-size="16.8" text-anchor="end" font-family="Liberation Serif, Times New Roman, serif" fill="#222" stroke="#222" stroke-width="0.57">35</text>
<g fill="#E69F00" stroke="#fff" stroke-width="0.8">
<circle cx="1747.40" cy="16.26" r="2.8"/>
<circle cx="1679.37" cy="52.78" r="2.8"/>
<circle cx="1702.13" cy="85.54" r="2.8"/>
<circle cx="1619.09" cy="103.30" r="2.8"/>
<circle cx="1690.38" cy="107.05" r="2.8"/>
<circle cx="1701.13" cy="119.06" r="2.8"/>
<circle cx="1580.82" cy="128.31" r="2.8"/>
<circle cx="1592.33" cy="138.57" r="2.8"/>
<circle cx="1624.59" cy="142.07" r="2.8"/>
<circle cx="1699.13" cy="158.83" r="2.8"/>
<circle cx="1660.86" cy="167.33" r="2.8"/>
<circle cx="1640.85" cy="170.59" r="2.8"/>
<circle cx="1623.59" cy="175.34" r="2.8"/>
<circle cx="1710.89" cy="173.34" r="2.8"/>
<circle cx="1708.88" cy="184.09" r="2.8"/>
<circle cx="1565.31" cy="207.10" r="2.8"/>
<circle cx="1567.56" cy="216.36" r="2.8"/>
<circle cx="1565.81" cy="221.61" r="2.8"/>
<circle cx="1594.33" cy="217.86" r="2.8"/>
<circle cx="1598.58" cy="218.86" r="2.8"/>
<circle cx="1600.33" cy="223.36" r="2.8"/>
<circle cx="1593.08" cy="225.36" r="2.8"/>
<circle cx="1623.59" cy="222.61" r="2.8"/>
<circle cx="1656.11" cy="219.11" r="2.8"/>
<circle cx="1684.37" cy="219.11" r="2.8"/>
<circle cx="1566.81" cy="231.12" r="2.8"/>
<circle cx="1573.32" cy="235.12" r="2.8"/>
<circle cx="1555.81" cy="240.87" r="2.8"/>
<circle cx="1578.82" cy="241.87" r="2.8"/>
<circle cx="1595.33" cy="245.12" r="2.8"/>
<circle cx="1617.84" cy="243.87" r="2.8"/>
<circle cx="1633.10" cy="240.12" r="2.8"/>
<circle cx="1632.10" cy="244.37" r="2.8"/>
<circle cx="1640.60" cy="245.87" r="2.8"/>
<circle cx="1633.85" cy="250.38" r="2.8"/>
<circle cx="1591.83" cy="252.13" r="2.8"/>
<circle cx="1550.31" cy="255.63" r="2.8"/>
<circle cx="1565.56" cy="256.63" r="2.8"/>
<circle cx="1588.57" cy="259.63" r="2.8"/>
<circle cx="1585.32" cy="264.63" r="2.8"/>
<circle cx="1598.33" cy="262.38" r="2.8"/>
<circle cx="1609.33" cy="259.38" r="2.8"/>
<circle cx="1615.59" cy="260.13" r="2.8"/>
<circle cx="1600.33" cy="268.63" r="2.8"/>
<circle cx="1605.83" cy="268.63" r="2.8"/>
<circle cx="1641.60" cy="267.63" r="2.8"/>
</g>
<g fill="#E69F00" stroke="#fff" stroke-width="0.8">
<circle cx="1555.81" cy="274.52" r="2.8"/>
<circle cx="1571.32" cy="278.02" r="2.8"/>
<circle cx="1573.07" cy="281.52" r="2.8"/>
<circle cx="1552.56" cy="283.52" r="2.8"/>
<circle cx="1542.05" cy="286.52" r="2.8"/>
<circle cx="1573.57" cy="287.27" r="2.8"/>
<circle cx="1584.32" cy="284.52" r="2.8"/>
<circle cx="1581.32" cy="286.52" r="2.8"/>
<circle cx="1589.07" cy="289.27" r="2.8"/>
<circle cx="1548.05" cy="295.28" r="2.8"/>
<circle cx="1559.31" cy="294.03" r="2.8"/>
<circle cx="1558.06" cy="297.53" r="2.8"/>
<circle cx="1575.82" cy="295.78" r="2.8"/>
<circle cx="1541.05" cy="302.03" r="2.8"/>
<circle cx="1549.30" cy="303.28" r="2.8"/>
<circle cx="1571.57" cy="300.78" r="2.8"/>
<circle cx="1538.80" cy="305.78" r="2.8"/>
<circle cx="1535.05" cy="307.03" r="2.8"/>
<circle cx="1541.30" cy="310.79" r="2.8"/>
<circle cx="1549.05" cy="311.29" r="2.8"/>
<circle cx="1524.04" cy="312.54" r="2.8"/>
<circle cx="1525.79" cy="317.54" r="2.8"/>
</g>
<g fill="#56B4E9" stroke="#fff" stroke-width="0.8">
<circle cx="1532.30" cy="324.04" r="2.8"/>
<circle cx="1539.55" cy="323.54" r="2.8"/>
<circle cx="1543.80" cy="323.54" r="2.8"/>
<circle cx="1547.05" cy="322.04" r="2.8"/>
<circle cx="1551.31" cy="323.54" r="2.8"/>
<circle cx="1553.81" cy="315.54" r="2.8"/>
<circle cx="1567.56" cy="322.79" r="2.8"/>
<circle cx="1570.82" cy="321.54" r="2.8"/>
<circle cx="1574.57" cy="324.29" r="2.8"/>
<circle cx="1576.57" cy="324.29" r="2.8"/>
<circle cx="1582.57" cy="319.54" r="2.8"/>
<circle cx="1594.58" cy="317.29" r="2.8"/>
<circle cx="1596.83" cy="316.79" r="2.8"/>
<circle cx="1599.08" cy="315.29" r="2.8"/>
<circle cx="1597.58" cy="320.04" r="2.8"/>
<circle cx="1605.58" cy="323.54" r="2.8"/>
<circle cx="1606.33" cy="310.29" r="2.8"/>
<circle cx="1610.84" cy="320.04" r="2.8"/>
<circle cx="1613.34" cy="315.79" r="2.8"/>
<circle cx="1615.09" cy="318.04" r="2.8"/>
<circle cx="1618.34" cy="320.04" r="2.8"/>
<circle cx="1622.59" cy="315.54" r="2.8"/>
<circle cx="1630.10" cy="313.79" r="2.8"/>
<circle cx="1638.85" cy="320.04" r="2.8"/>
<circle cx="1643.10" cy="315.79" r="2.8"/>
<circle cx="1645.60" cy="312.04" r="2.8"/>
<circle cx="1648.10" cy="318.04" r="2.8"/>
<circle cx="1650.86" cy="315.04" r="2.8"/>
<circle cx="1653.86" cy="319.54" r="2.8"/>
<circle cx="1657.11" cy="311.29" r="2.8"/>
<circle cx="1656.61" cy="319.04" r="2.8"/>
<circle cx="1665.11" cy="315.04" r="2.8"/>
<circle cx="1667.11" cy="318.04" r="2.8"/>
<circle cx="1671.37" cy="321.29" r="2.8"/>
<circle cx="1672.87" cy="307.03" r="2.8"/>
<circle cx="1676.37" cy="319.04" r="2.8"/>
<circle cx="1706.88" cy="310.54" r="2.8"/>
<circle cx="1727.14" cy="320.04" r="2.8"/>
<circle cx="1732.90" cy="316.29" r="2.8"/>
<circle cx="1738.40" cy="310.54" r="2.8"/>
<circle cx="1757.91" cy="312.04" r="2.8"/>
<circle cx="1693.38" cy="322.04" r="2.8"/>
</g>
<g fill="#009E73" stroke="#fff" stroke-width="0.8">
<circle cx="1585.82" cy="324.29" r="2.8"/>
<circle cx="1589.32" cy="324.29" r="2.8"/>
<circle cx="1595.08" cy="324.29" r="2.8"/>
<circle cx="1608.83" cy="324.29" r="2.8"/>
<circle cx="1613.84" cy="324.29" r="2.8"/>
<circle cx="1618.09" cy="324.29" r="2.8"/>
<circle cx="1620.59" cy="324.29" r="2.8"/>
<circle cx="1624.59" cy="324.29" r="2.8"/>
<circle cx="1633.85" cy="324.29" r="2.8"/>
<circle cx="1639.35" cy="324.29" r="2.8"/>
<circle cx="1640.10" cy="324.29" r="2.8"/>
<circle cx="1649.10" cy="324.29" r="2.8"/>
<circle cx="1655.11" cy="324.29" r="2.8"/>
<circle cx="1661.36" cy="324.29" r="2.8"/>
<circle cx="1665.11" cy="324.29" r="2.8"/>
<circle cx="1667.61" cy="324.29" r="2.8"/>
<circle cx="1672.12" cy="324.29" r="2.8"/>
<circle cx="1674.37" cy="324.29" r="2.8"/>
<circle cx="1680.62" cy="324.29" r="2.8"/>
<circle cx="1686.87" cy="324.29" r="2.8"/>
<circle cx="1690.88" cy="324.29" r="2.8"/>
<circle cx="1692.63" cy="324.29" r="2.8"/>
<circle cx="1697.63" cy="324.29" r="2.8"/>
<circle cx="1702.13" cy="324.29" r="2.8"/>
<circle cx="1703.88" cy="324.29" r="2.8"/>
<circle cx="1707.63" cy="324.29" r="2.8"/>
<circle cx="1712.64" cy="324.29" r="2.8"/>
<circle cx="1719.64" cy="324.29" r="2.8"/>
<circle cx="1728.14" cy="324.29" r="2.8"/>
<circle cx="1730.15" cy="324.29" r="2.8"/>
<circle cx="1732.15" cy="324.29" r="2.8"/>
<circle cx="1741.40" cy="324.29" r="2.8"/>
<circle cx="1745.15" cy="324.29" r="2.8"/>
<circle cx="1748.40" cy="324.29" r="2.8"/>
<circle cx="1758.41" cy="324.29" r="2.8"/>
<circle cx="1761.41" cy="324.29" r="2.8"/>
<circle cx="1766.41" cy="324.29" r="2.8"/>
<circle cx="1775.17" cy="324.29" r="2.8"/>
<circle cx="1829.69" cy="324.29" r="2.8"/>
</g>
<line x1="1508.75" x2="1830" y1="306.55" y2="306.55" stroke="#000" stroke-width="1.95" stroke-dasharray="5.3 2.2"/>
<text transform="translate(1829.50,299.60) scale(1,1.0)" font-size="14.7" text-anchor="end" font-family="Liberation Sans, Arial, Helvetica, sans-serif" fill="#222" stroke="#222" stroke-width="0.29">adj-p = 0.01</text>
<text transform="translate(1669.50,384.00) scale(1,1.0)" font-size="14.0" text-anchor="middle" font-family="Liberation Sans, Arial, Helvetica, sans-serif" fill="#222" stroke="#222" stroke-width="0.45">Best permutation log2(Activity)</text>
<text transform="translate(1669.50,399.50) scale(1,1.0)" font-size="14.0" text-anchor="middle" font-family="Liberation Sans, Arial, Helvetica, sans-serif" fill="#222" stroke="#222" stroke-width="0.45">- Worst permutation log2(Activity)</text>
<text transform="translate(1456.3,170) rotate(-90) scale(1,1.0)" font-size="14.0" text-anchor="middle" font-family="Liberation Sans, Arial, Helvetica, sans-serif" fill="#222" stroke="#222" stroke-width="0.35">-log10(adj-p)</text>
<rect x="1853.3" y="8.2" width="126.4" height="70.4" rx="2.5" fill="#EEEEF5" stroke="#D6D6DC" stroke-width="1"/>
<circle cx="1875" cy="21.2" r="6.2" fill="#E69F00"/>
<text transform="translate(1902.50,25.00) scale(1,1.0)" font-size="15.0" text-anchor="start" font-family="Liberation Sans, Arial, Helvetica, sans-serif" fill="#222" stroke="#222" stroke-width="0.30">lentiMPRA</text>
<circle cx="1875" cy="42.8" r="6.2" fill="#56B4E9"/>
<text transform="translate(1902.50,46.90) scale(1,1.0)" font-size="15.0" text-anchor="start" font-family="Liberation Sans, Arial, Helvetica, sans-serif" fill="#222" stroke="#222" stroke-width="0.30" letter-spacing="-0.8">ATAC</text>
<circle cx="1875" cy="64.3" r="6.2" fill="#009E73"/>
<text transform="translate(1902.50,68.40) scale(1,1.0)" font-size="15.0" text-anchor="start" font-family="Liberation Sans, Arial, Helvetica, sans-serif" fill="#222" stroke="#222" stroke-width="0.30">H3K27ac</text>
<text transform="translate(1675.00,473.30) scale(1,1.0)" font-size="17.45" text-anchor="middle" font-family="Liberation Sans, Arial, Helvetica, sans-serif" fill="#222" stroke="#222" stroke-width="0.35">top200 permutations</text>
<text transform="translate(1331.80,740.15) scale(0.95,1)" font-size="14.0" text-anchor="end" font-family="Liberation Serif, Times New Roman, serif" fill="#222" stroke="#222" stroke-width="0.48">0.0</text>
<text transform="translate(1331.80,697.25) scale(0.95,1)" font-size="14.0" text-anchor="end" font-family="Liberation Serif, Times New Roman, serif" fill="#222" stroke="#222" stroke-width="0.48">0.5</text>
<text transform="translate(1331.80,654.35) scale(0.95,1)" font-size="14.0" text-anchor="end" font-family="Liberation Serif, Times New Roman, serif" fill="#222" stroke="#222" stroke-width="0.48">1.0</text>
<text transform="translate(1331.80,611.45) scale(0.95,1)" font-size="14.0" text-anchor="end" font-family="Liberation Serif, Times New Roman, serif" fill="#222" stroke="#222" stroke-width="0.48">1.5</text>
<text transform="translate(1331.80,568.55) scale(0.95,1)" font-size="14.0" text-anchor="end" font-family="Liberation Serif, Times New Roman, serif" fill="#222" stroke="#222" stroke-width="0.48">2.0</text>
<text transform="translate(1331.80,525.65) scale(0.95,1)" font-size="14.0" text-anchor="end" font-family="Liberation Serif, Times New Roman, serif" fill="#222" stroke="#222" stroke-width="0.48">2.5</text>
<text transform="translate(1307.5,626.9) rotate(-90) scale(1,1.0)" font-size="14.6" text-anchor="middle" font-family="Liberation Sans, Arial, Helvetica, sans-serif" fill="#222" stroke="#222" stroke-width="0.15">odds ratio</text>
<rect x="1345.50" y="509.25" width="70.1" height="235.25" fill="#EAEAF2"/>
<line x1="1345.50" x2="1415.60" y1="735.05" y2="735.05" stroke="#fff" stroke-width="1.6"/>
<line x1="1345.50" x2="1415.60" y1="692.15" y2="692.15" stroke="#fff" stroke-width="1.6"/>
<line x1="1345.50" x2="1415.60" y1="649.25" y2="649.25" stroke="#fff" stroke-width="1.6"/>
<line x1="1345.50" x2="1415.60" y1="606.35" y2="606.35" stroke="#fff" stroke-width="1.6"/>
<line x1="1345.50" x2="1415.60" y1="563.45" y2="563.45" stroke="#fff" stroke-width="1.6"/>
<line x1="1345.50" x2="1415.60" y1="520.55" y2="520.55" stroke="#fff" stroke-width="1.6"/>
<line x1="1354.65" x2="1354.65" y1="509.25" y2="744.5" stroke="#fff" stroke-width="1.6"/>
<line x1="1371.90" x2="1371.90" y1="509.25" y2="744.5" stroke="#fff" stroke-width="1.6"/>
<line x1="1389.15" x2="1389.15" y1="509.25" y2="744.5" stroke="#fff" stroke-width="1.6"/>
<line x1="1406.40" x2="1406.40" y1="509.25" y2="744.5" stroke="#fff" stroke-width="1.6"/>
<rect x="1348.05" y="632.28" width="13.2" height="16.97" fill="#E69F00" stroke="#fff" stroke-width="1.0"/>
<text transform="translate(1354.65,766.90) scale(1,1.0)" font-size="12.6" text-anchor="middle" font-family="Liberation Sans, Arial, Helvetica, sans-serif" fill="#222" stroke="#222" stroke-width="0.25">1</text>
<rect x="1365.30" y="628.76" width="13.2" height="20.49" fill="#E69F00" stroke="#fff" stroke-width="1.0"/>
<text transform="translate(1371.90,766.90) scale(1,1.0)" font-size="12.6" text-anchor="middle" font-family="Liberation Sans, Arial, Helvetica, sans-serif" fill="#222" stroke="#222" stroke-width="0.25">2</text>
<rect x="1382.55" y="639.31" width="13.2" height="9.94" fill="#E69F00" stroke="#fff" stroke-width="1.0"/>
<text transform="translate(1389.15,766.90) scale(1,1.0)" font-size="12.6" text-anchor="middle" font-family="Liberation Sans, Arial, Helvetica, sans-serif" fill="#222" stroke="#222" stroke-width="0.25">3</text>
<rect x="1399.80" y="649.25" width="13.2" height="37.22" fill="#E69F00" stroke="#fff" stroke-width="1.0"/>
<text x="1405.20" y="700.32" font-size="11.8" font-family="Liberation Sans, Arial, Helvetica, sans-serif" fill="#2e2e2e" stroke="#2e2e2e" stroke-width="0.3">*</text>
<text transform="translate(1406.40,766.90) scale(1,1.0)" font-size="12.6" text-anchor="middle" font-family="Liberation Sans, Arial, Helvetica, sans-serif" fill="#222" stroke="#222" stroke-width="0.25">4</text>
<text transform="translate(1380.55,784.60) scale(1,1.0)" font-size="14.3" text-anchor="middle" font-family="Liberation Sans, Arial, Helvetica, sans-serif" fill="#222" stroke="#222" stroke-width="0.29">CEBPA</text>
<rect x="1436.00" y="509.25" width="70.1" height="235.25" fill="#EAEAF2"/>
<line x1="1436.00" x2="1506.10" y1="735.05" y2="735.05" stroke="#fff" stroke-width="1.6"/>
<line x1="1436.00" x2="1506.10" y1="692.15" y2="692.15" stroke="#fff" stroke-width="1.6"/>
<line x1="1436.00" x2="1506.10" y1="649.25" y2="649.25" stroke="#fff" stroke-width="1.6"/>
<line x1="1436.00" x2="1506.10" y1="606.35" y2="606.35" stroke="#fff" stroke-width="1.6"/>
<line x1="1436.00" x2="1506.10" y1="563.45" y2="563.45" stroke="#fff" stroke-width="1.6"/>
<line x1="1436.00" x2="1506.10" y1="520.55" y2="520.55" stroke="#fff" stroke-width="1.6"/>
<line x1="1445.15" x2="1445.15" y1="509.25" y2="744.5" stroke="#fff" stroke-width="1.6"/>
<line x1="1462.40" x2="1462.40" y1="509.25" y2="744.5" stroke="#fff" stroke-width="1.6"/>
<line x1="1479.65" x2="1479.65" y1="509.25" y2="744.5" stroke="#fff" stroke-width="1.6"/>
<line x1="1496.90" x2="1496.90" y1="509.25" y2="744.5" stroke="#fff" stroke-width="1.6"/>
<rect x="1438.55" y="604.99" width="13.2" height="44.26" fill="#56B4E9" stroke="#fff" stroke-width="1.0"/>
<text x="1443.95" y="603.94" font-size="11.8" font-family="Liberation Sans, Arial, Helvetica, sans-serif" fill="#2e2e2e" stroke="#2e2e2e" stroke-width="0.3">*</text>
<text transform="translate(1445.15,766.90) scale(1,1.0)" font-size="12.6" text-anchor="middle" font-family="Liberation Sans, Arial, Helvetica, sans-serif" fill="#222" stroke="#222" stroke-width="0.25">1</text>
<rect x="1455.80" y="632.28" width="13.2" height="16.97" fill="#56B4E9" stroke="#fff" stroke-width="1.0"/>
<text transform="translate(1462.40,766.90) scale(1,1.0)" font-size="12.6" text-anchor="middle" font-family="Liberation Sans, Arial, Helvetica, sans-serif" fill="#222" stroke="#222" stroke-width="0.25">2</text>
<text transform="translate(1479.65,766.90) scale(1,1.0)" font-size="12.6" text-anchor="middle" font-family="Liberation Sans, Arial, Helvetica, sans-serif" fill="#222" stroke="#222" stroke-width="0.25">3</text>
<rect x="1490.30" y="649.25" width="13.2" height="60.99" fill="#56B4E9" stroke="#fff" stroke-width="1.0"/>
<text transform="translate(1504.05,729.11) rotate(-90)" font-size="11.8" letter-spacing="1.26" font-family="Liberation Sans, Arial, Helvetica, sans-serif" fill="#2e2e2e" stroke="#2e2e2e" stroke-width="0.3">****</text>
<text transform="translate(1496.90,766.90) scale(1,1.0)" font-size="12.6" text-anchor="middle" font-family="Liberation Sans, Arial, Helvetica, sans-serif" fill="#222" stroke="#222" stroke-width="0.25">4</text>
<text transform="translate(1471.05,784.60) scale(1,1.0)" font-size="14.3" text-anchor="middle" font-family="Liberation Sans, Arial, Helvetica, sans-serif" fill="#222" stroke="#222" stroke-width="0.29">CTCF</text>
<rect x="1526.50" y="509.25" width="70.1" height="235.25" fill="#EAEAF2"/>
<line x1="1526.50" x2="1596.60" y1="735.05" y2="735.05" stroke="#fff" stroke-width="1.6"/>
<line x1="1526.50" x2="1596.60" y1="692.15" y2="692.15" stroke="#fff" stroke-width="1.6"/>
<line x1="1526.50" x2="1596.60" y1="649.25" y2="649.25" stroke="#fff" stroke-width="1.6"/>
<line x1="1526.50" x2="1596.60" y1="606.35" y2="606.35" stroke="#fff" stroke-width="1.6"/>
<line x1="1526.50" x2="1596.60" y1="563.45" y2="563.45" stroke="#fff" stroke-width="1.6"/>
<line x1="1526.50" x2="1596.60" y1="520.55" y2="520.55" stroke="#fff" stroke-width="1.6"/>
<line x1="1535.65" x2="1535.65" y1="509.25" y2="744.5" stroke="#fff" stroke-width="1.6"/>
<line x1="1552.90" x2="1552.90" y1="509.25" y2="744.5" stroke="#fff" stroke-width="1.6"/>
<line x1="1570.15" x2="1570.15" y1="509.25" y2="744.5" stroke="#fff" stroke-width="1.6"/>
<line x1="1587.40" x2="1587.40" y1="509.25" y2="744.5" stroke="#fff" stroke-width="1.6"/>
<rect x="1529.05" y="642.23" width="13.2" height="7.02" fill="#009E73" stroke="#fff" stroke-width="1.0"/>
<text transform="translate(1535.65,766.90) scale(1,1.0)" font-size="12.6" text-anchor="middle" font-family="Liberation Sans, Arial, Helvetica, sans-serif" fill="#222" stroke="#222" stroke-width="0.25">1</text>
<text transform="translate(1552.90,766.90) scale(1,1.0)" font-size="12.6" text-anchor="middle" font-family="Liberation Sans, Arial, Helvetica, sans-serif" fill="#222" stroke="#222" stroke-width="0.25">2</text>
<rect x="1563.55" y="649.25" width="13.2" height="40.74" fill="#009E73" stroke="#fff" stroke-width="1.0"/>
<text x="1568.95" y="703.84" font-size="11.8" font-family="Liberation Sans, Arial, Helvetica, sans-serif" fill="#2e2e2e" stroke="#2e2e2e" stroke-width="0.3">*</text>
<text transform="translate(1570.15,766.90) scale(1,1.0)" font-size="12.6" text-anchor="middle" font-family="Liberation Sans, Arial, Helvetica, sans-serif" fill="#222" stroke="#222" stroke-width="0.25">3</text>
<rect x="1580.80" y="649.25" width="13.2" height="27.01" fill="#009E73" stroke="#fff" stroke-width="1.0"/>
<text transform="translate(1587.40,766.90) scale(1,1.0)" font-size="12.6" text-anchor="middle" font-family="Liberation Sans, Arial, Helvetica, sans-serif" fill="#222" stroke="#222" stroke-width="0.25">4</text>
<text transform="translate(1561.55,784.60) scale(1,1.0)" font-size="14.3" text-anchor="middle" font-family="Liberation Sans, Arial, Helvetica, sans-serif" fill="#222" stroke="#222" stroke-width="0.29">FOXA1</text>
<rect x="1617.00" y="509.25" width="70.1" height="235.25" fill="#EAEAF2"/>
<line x1="1617.00" x2="1687.10" y1="735.05" y2="735.05" stroke="#fff" stroke-width="1.6"/>
<line x1="1617.00" x2="1687.10" y1="692.15" y2="692.15" stroke="#fff" stroke-width="1.6"/>
<line x1="1617.00" x2="1687.10" y1="649.25" y2="649.25" stroke="#fff" stroke-width="1.6"/>
<line x1="1617.00" x2="1687.10" y1="606.35" y2="606.35" stroke="#fff" stroke-width="1.6"/>
<line x1="1617.00" x2="1687.10" y1="563.45" y2="563.45" stroke="#fff" stroke-width="1.6"/>
<line x1="1617.00" x2="1687.10" y1="520.55" y2="520.55" stroke="#fff" stroke-width="1.6"/>
<line x1="1626.15" x2="1626.15" y1="509.25" y2="744.5" stroke="#fff" stroke-width="1.6"/>
<line x1="1643.40" x2="1643.40" y1="509.25" y2="744.5" stroke="#fff" stroke-width="1.6"/>
<line x1="1660.65" x2="1660.65" y1="509.25" y2="744.5" stroke="#fff" stroke-width="1.6"/>
<line x1="1677.90" x2="1677.90" y1="509.25" y2="744.5" stroke="#fff" stroke-width="1.6"/>
<rect x="1619.55" y="642.23" width="13.2" height="7.02" fill="#F0E442" stroke="#fff" stroke-width="1.0"/>
<text transform="translate(1626.15,766.90) scale(1,1.0)" font-size="12.6" text-anchor="middle" font-family="Liberation Sans, Arial, Helvetica, sans-serif" fill="#222" stroke="#222" stroke-width="0.25">1</text>
<rect x="1636.80" y="625.24" width="13.2" height="24.01" fill="#F0E442" stroke="#fff" stroke-width="1.0"/>
<text transform="translate(1643.40,766.90) scale(1,1.0)" font-size="12.6" text-anchor="middle" font-family="Liberation Sans, Arial, Helvetica, sans-serif" fill="#222" stroke="#222" stroke-width="0.25">2</text>
<rect x="1654.05" y="557.03" width="13.2" height="92.22" fill="#F0E442" stroke="#fff" stroke-width="1.0"/>
<text transform="translate(1667.80,561.00) rotate(-90)" font-size="11.8" letter-spacing="1.26" font-family="Liberation Sans, Arial, Helvetica, sans-serif" fill="#2e2e2e" stroke="#2e2e2e" stroke-width="0.3">****</text>
<text transform="translate(1660.65,766.90) scale(1,1.0)" font-size="12.6" text-anchor="middle" font-family="Liberation Sans, Arial, Helvetica, sans-serif" fill="#222" stroke="#222" stroke-width="0.25">3</text>
<rect x="1671.30" y="519.19" width="13.2" height="130.06" fill="#F0E442" stroke="#fff" stroke-width="1.0"/>
<text transform="translate(1685.05,523.16) rotate(-90)" font-size="11.8" letter-spacing="1.26" font-family="Liberation Sans, Arial, Helvetica, sans-serif" fill="#2e2e2e" stroke="#2e2e2e" stroke-width="0.3">****</text>
<text transform="translate(1677.90,766.90) scale(1,1.0)" font-size="12.6" text-anchor="middle" font-family="Liberation Sans, Arial, Helvetica, sans-serif" fill="#222" stroke="#222" stroke-width="0.25">4</text>
<text transform="translate(1652.05,784.60) scale(1,1.0)" font-size="14.3" text-anchor="middle" font-family="Liberation Sans, Arial, Helvetica, sans-serif" fill="#222" stroke="#222" stroke-width="0.29">HNF1A</text>
<rect x="1707.50" y="509.25" width="70.1" height="235.25" fill="#EAEAF2"/>
<line x1="1707.50" x2="1777.60" y1="735.05" y2="735.05" stroke="#fff" stroke-width="1.6"/>
<line x1="1707.50" x2="1777.60" y1="692.15" y2="692.15" stroke="#fff" stroke-width="1.6"/>
<line x1="1707.50" x2="1777.60" y1="649.25" y2="649.25" stroke="#fff" stroke-width="1.6"/>
<line x1="1707.50" x2="1777.60" y1="606.35" y2="606.35" stroke="#fff" stroke-width="1.6"/>
<line x1="1707.50" x2="1777.60" y1="563.45" y2="563.45" stroke="#fff" stroke-width="1.6"/>
<line x1="1707.50" x2="1777.60" y1="520.55" y2="520.55" stroke="#fff" stroke-width="1.6"/>
<line x1="1716.65" x2="1716.65" y1="509.25" y2="744.5" stroke="#fff" stroke-width="1.6"/>
<line x1="1733.90" x2="1733.90" y1="509.25" y2="744.5" stroke="#fff" stroke-width="1.6"/>
<line x1="1751.15" x2="1751.15" y1="509.25" y2="744.5" stroke="#fff" stroke-width="1.6"/>
<line x1="1768.40" x2="1768.40" y1="509.25" y2="744.5" stroke="#fff" stroke-width="1.6"/>
<rect x="1710.05" y="621.98" width="13.2" height="27.27" fill="#0072B2" stroke="#fff" stroke-width="1.0"/>
<text transform="translate(1716.65,766.90) scale(1,1.0)" font-size="12.6" text-anchor="middle" font-family="Liberation Sans, Arial, Helvetica, sans-serif" fill="#222" stroke="#222" stroke-width="0.25">1</text>
<rect x="1727.30" y="649.25" width="13.2" height="6.51" fill="#0072B2" stroke="#fff" stroke-width="1.0"/>
<text transform="translate(1733.90,766.90) scale(1,1.0)" font-size="12.6" text-anchor="middle" font-family="Liberation Sans, Arial, Helvetica, sans-serif" fill="#222" stroke="#222" stroke-width="0.25">2</text>
<rect x="1744.55" y="649.25" width="13.2" height="40.74" fill="#0072B2" stroke="#fff" stroke-width="1.0"/>
<text x="1749.95" y="703.84" font-size="11.8" font-family="Liberation Sans, Arial, Helvetica, sans-serif" fill="#2e2e2e" stroke="#2e2e2e" stroke-width="0.3">*</text>
<text transform="translate(1751.15,766.90) scale(1,1.0)" font-size="12.6" text-anchor="middle" font-family="Liberation Sans, Arial, Helvetica, sans-serif" fill="#222" stroke="#222" stroke-width="0.25">3</text>
<rect x="1761.80" y="649.25" width="13.2" height="71.54" fill="#0072B2" stroke="#fff" stroke-width="1.0"/>
<text transform="translate(1775.55,739.66) rotate(-90)" font-size="11.8" letter-spacing="1.26" font-family="Liberation Sans, Arial, Helvetica, sans-serif" fill="#2e2e2e" stroke="#2e2e2e" stroke-width="0.3">****</text>
<text transform="translate(1768.40,766.90) scale(1,1.0)" font-size="12.6" text-anchor="middle" font-family="Liberation Sans, Arial, Helvetica, sans-serif" fill="#222" stroke="#222" stroke-width="0.25">4</text>
<text transform="translate(1742.55,784.60) scale(1,1.0)" font-size="14.3" text-anchor="middle" font-family="Liberation Sans, Arial, Helvetica, sans-serif" fill="#222" stroke="#222" stroke-width="0.29">ONECUT1</text>
<rect x="1798.00" y="509.25" width="70.1" height="235.25" fill="#EAEAF2"/>
<line x1="1798.00" x2="1868.10" y1="735.05" y2="735.05" stroke="#fff" stroke-width="1.6"/>
<line x1="1798.00" x2="1868.10" y1="692.15" y2="692.15" stroke="#fff" stroke-width="1.6"/>
<line x1="1798.00" x2="1868.10" y1="649.25" y2="649.25" stroke="#fff" stroke-width="1.6"/>
<line x1="1798.00" x2="1868.10" y1="606.35" y2="606.35" stroke="#fff" stroke-width="1.6"/>
<line x1="1798.00" x2="1868.10" y1="563.45" y2="563.45" stroke="#fff" stroke-width="1.6"/>
<line x1="1798.00" x2="1868.10" y1="520.55" y2="520.55" stroke="#fff" stroke-width="1.6"/>
<line x1="1807.15" x2="1807.15" y1="509.25" y2="744.5" stroke="#fff" stroke-width="1.6"/>
<line x1="1824.40" x2="1824.40" y1="509.25" y2="744.5" stroke="#fff" stroke-width="1.6"/>
<line x1="1841.65" x2="1841.65" y1="509.25" y2="744.5" stroke="#fff" stroke-width="1.6"/>
<line x1="1858.90" x2="1858.90" y1="509.25" y2="744.5" stroke="#fff" stroke-width="1.6"/>
<rect x="1800.55" y="649.25" width="13.2" height="30.79" fill="#D55E00" stroke="#fff" stroke-width="1.0"/>
<text transform="translate(1807.15,766.90) scale(1,1.0)" font-size="12.6" text-anchor="middle" font-family="Liberation Sans, Arial, Helvetica, sans-serif" fill="#222" stroke="#222" stroke-width="0.25">1</text>
<rect x="1817.80" y="642.49" width="13.2" height="6.76" fill="#D55E00" stroke="#fff" stroke-width="1.0"/>
<text transform="translate(1824.40,766.90) scale(1,1.0)" font-size="12.6" text-anchor="middle" font-family="Liberation Sans, Arial, Helvetica, sans-serif" fill="#222" stroke="#222" stroke-width="0.25">2</text>
<rect x="1835.05" y="635.71" width="13.2" height="13.54" fill="#D55E00" stroke="#fff" stroke-width="1.0"/>
<text transform="translate(1841.65,766.90) scale(1,1.0)" font-size="12.6" text-anchor="middle" font-family="Liberation Sans, Arial, Helvetica, sans-serif" fill="#222" stroke="#222" stroke-width="0.25">3</text>
<rect x="1852.30" y="584.49" width="13.2" height="64.76" fill="#D55E00" stroke="#fff" stroke-width="1.0"/>
<text transform="translate(1866.05,585.53) rotate(-90)" font-size="11.8" letter-spacing="1.26" font-family="Liberation Sans, Arial, Helvetica, sans-serif" fill="#2e2e2e" stroke="#2e2e2e" stroke-width="0.3">***</text>
<text transform="translate(1858.90,766.90) scale(1,1.0)" font-size="12.6" text-anchor="middle" font-family="Liberation Sans, Arial, Helvetica, sans-serif" fill="#222" stroke="#222" stroke-width="0.25">4</text>
<text transform="translate(1833.05,784.60) scale(1,1.0)" font-size="14.3" text-anchor="middle" font-family="Liberation Sans, Arial, Helvetica, sans-serif" fill="#222" stroke="#222" stroke-width="0.29">PPARA</text>
<rect x="1888.50" y="509.25" width="70.1" height="235.25" fill="#EAEAF2"/>
<line x1="1888.50" x2="1958.60" y1="735.05" y2="735.05" stroke="#fff" stroke-width="1.6"/>
<line x1="1888.50" x2="1958.60" y1="692.15" y2="692.15" stroke="#fff" stroke-width="1.6"/>
<line x1="1888.50" x2="1958.60" y1="649.25" y2="649.25" stroke="#fff" stroke-width="1.6"/>
<line x1="1888.50" x2="1958.60" y1="606.35" y2="606.35" stroke="#fff" stroke-width="1.6"/>
<line x1="1888.50" x2="1958.60" y1="563.45" y2="563.45" stroke="#fff" stroke-width="1.6"/>
<line x1="1888.50" x2="1958.60" y1="520.55" y2="520.55" stroke="#fff" stroke-width="1.6"/>
<line x1="1897.65" x2="1897.65" y1="509.25" y2="744.5" stroke="#fff" stroke-width="1.6"/>
<line x1="1914.90" x2="1914.90" y1="509.25" y2="744.5" stroke="#fff" stroke-width="1.6"/>
<line x1="1932.15" x2="1932.15" y1="509.25" y2="744.5" stroke="#fff" stroke-width="1.6"/>
<line x1="1949.40" x2="1949.40" y1="509.25" y2="744.5" stroke="#fff" stroke-width="1.6"/>
<rect x="1891.05" y="635.97" width="13.2" height="13.28" fill="#CC79A7" stroke="#fff" stroke-width="1.0"/>
<text transform="translate(1897.65,766.90) scale(1,1.0)" font-size="12.6" text-anchor="middle" font-family="Liberation Sans, Arial, Helvetica, sans-serif" fill="#222" stroke="#222" stroke-width="0.25">1</text>
<rect x="1908.30" y="625.24" width="13.2" height="24.01" fill="#CC79A7" stroke="#fff" stroke-width="1.0"/>
<text transform="translate(1914.90,766.90) scale(1,1.0)" font-size="12.6" text-anchor="middle" font-family="Liberation Sans, Arial, Helvetica, sans-serif" fill="#222" stroke="#222" stroke-width="0.25">2</text>
<rect x="1925.55" y="598.21" width="13.2" height="51.04" fill="#CC79A7" stroke="#fff" stroke-width="1.0"/>
<text transform="translate(1939.30,596.33) rotate(-90)" font-size="11.8" letter-spacing="1.26" font-family="Liberation Sans, Arial, Helvetica, sans-serif" fill="#2e2e2e" stroke="#2e2e2e" stroke-width="0.3">**</text>
<text transform="translate(1932.15,766.90) scale(1,1.0)" font-size="12.6" text-anchor="middle" font-family="Liberation Sans, Arial, Helvetica, sans-serif" fill="#222" stroke="#222" stroke-width="0.25">3</text>
<rect x="1942.80" y="560.46" width="13.2" height="88.79" fill="#CC79A7" stroke="#fff" stroke-width="1.0"/>
<text transform="translate(1956.55,564.43) rotate(-90)" font-size="11.8" letter-spacing="1.26" font-family="Liberation Sans, Arial, Helvetica, sans-serif" fill="#2e2e2e" stroke="#2e2e2e" stroke-width="0.3">****</text>
<text transform="translate(1949.40,766.90) scale(1,1.0)" font-size="12.6" text-anchor="middle" font-family="Liberation Sans, Arial, Helvetica, sans-serif" fill="#222" stroke="#222" stroke-width="0.25">4</text>
<text transform="translate(1923.55,784.60) scale(1,1.0)" font-size="14.3" text-anchor="middle" font-family="Liberation Sans, Arial, Helvetica, sans-serif" fill="#222" stroke="#222" stroke-width="0.29">XBP1</text>
<rect x="1979.00" y="509.25" width="70.1" height="235.25" fill="#EAEAF2"/>
<line x1="1979.00" x2="2049.10" y1="735.05" y2="735.05" stroke="#fff" stroke-width="1.6"/>
<line x1="1979.00" x2="2049.10" y1="692.15" y2="692.15" stroke="#fff" stroke-width="1.6"/>
<line x1="1979.00" x2="2049.10" y1="649.25" y2="649.25" stroke="#fff" stroke-width="1.6"/>
<line x1="1979.00" x2="2049.10" y1="606.35" y2="606.35" stroke="#fff" stroke-width="1.6"/>
<line x1="1979.00" x2="2049.10" y1="563.45" y2="563.45" stroke="#fff" stroke-width="1.6"/>
<line x1="1979.00" x2="2049.10" y1="520.55" y2="520.55" stroke="#fff" stroke-width="1.6"/>
<line x1="1988.15" x2="1988.15" y1="509.25" y2="744.5" stroke="#fff" stroke-width="1.6"/>
<line x1="2005.40" x2="2005.40" y1="509.25" y2="744.5" stroke="#fff" stroke-width="1.6"/>
<line x1="2022.65" x2="2022.65" y1="509.25" y2="744.5" stroke="#fff" stroke-width="1.6"/>
<line x1="2039.90" x2="2039.90" y1="509.25" y2="744.5" stroke="#fff" stroke-width="1.6"/>
<rect x="1981.55" y="649.25" width="13.2" height="85.01" fill="#000000" stroke="#fff" stroke-width="1.0"/>
<text transform="translate(1995.30,753.13) rotate(-90)" font-size="11.8" letter-spacing="1.26" font-family="Liberation Sans, Arial, Helvetica, sans-serif" fill="#2e2e2e" stroke="#2e2e2e" stroke-width="0.3">****</text>
<text transform="translate(1988.15,766.90) scale(1,1.0)" font-size="12.6" text-anchor="middle" font-family="Liberation Sans, Arial, Helvetica, sans-serif" fill="#222" stroke="#222" stroke-width="0.25">1</text>
<rect x="1998.80" y="649.25" width="13.2" height="85.01" fill="#000000" stroke="#fff" stroke-width="1.0"/>
<text transform="translate(2012.55,753.13) rotate(-90)" font-size="11.8" letter-spacing="1.26" font-family="Liberation Sans, Arial, Helvetica, sans-serif" fill="#2e2e2e" stroke="#2e2e2e" stroke-width="0.3">****</text>
<text transform="translate(2005.40,766.90) scale(1,1.0)" font-size="12.6" text-anchor="middle" font-family="Liberation Sans, Arial, Helvetica, sans-serif" fill="#222" stroke="#222" stroke-width="0.25">2</text>
<rect x="2016.05" y="649.25" width="13.2" height="85.01" fill="#000000" stroke="#fff" stroke-width="1.0"/>
<text transform="translate(2029.80,753.13) rotate(-90)" font-size="11.8" letter-spacing="1.26" font-family="Liberation Sans, Arial, Helvetica, sans-serif" fill="#2e2e2e" stroke="#2e2e2e" stroke-width="0.3">****</text>
<text transform="translate(2022.65,766.90) scale(1,1.0)" font-size="12.6" text-anchor="middle" font-family="Liberation Sans, Arial, Helvetica, sans-serif" fill="#222" stroke="#222" stroke-width="0.25">3</text>
<rect x="2033.30" y="649.25" width="13.2" height="85.01" fill="#000000" stroke="#fff" stroke-width="1.0"/>
<text transform="translate(2047.05,753.13) rotate(-90)" font-size="11.8" letter-spacing="1.26" font-family="Liberation Sans, Arial, Helvetica, sans-serif" fill="#2e2e2e" stroke="#2e2e2e" stroke-width="0.3">****</text>
<text transform="translate(2039.90,766.90) scale(1,1.0)" font-size="12.6" text-anchor="middle" font-family="Liberation Sans, Arial, Helvetica, sans-serif" fill="#222" stroke="#222" stroke-width="0.25">4</text>
<text transform="translate(2014.05,784.60) scale(1,1.0)" font-size="14.3" text-anchor="middle" font-family="Liberation Sans, Arial, Helvetica, sans-serif" fill="#222" stroke="#222" stroke-width="0.29">REST</text>
<text transform="translate(1675.00,864.50) scale(1,1.0)" font-size="17.45" text-anchor="middle" font-family="Liberation Sans, Arial, Helvetica, sans-serif" fill="#222" stroke="#222" stroke-width="0.35">bottom200 permutations</text>
<text transform="translate(1331.80,1131.70) scale(0.95,1)" font-size="14.0" text-anchor="end" font-family="Liberation Serif, Times New Roman, serif" fill="#222" stroke="#222" stroke-width="0.48">0.0</text>
<text transform="translate(1331.80,1098.15) scale(0.95,1)" font-size="14.0" text-anchor="end" font-family="Liberation Serif, Times New Roman, serif" fill="#222" stroke="#222" stroke-width="0.48">0.5</text>
<text transform="translate(1331.80,1064.60) scale(0.95,1)" font-size="14.0" text-anchor="end" font-family="Liberation Serif, Times New Roman, serif" fill="#222" stroke="#222" stroke-width="0.48">1.0</text>
<text transform="translate(1331.80,1031.05) scale(0.95,1)" font-size="14.0" text-anchor="end" font-family="Liberation Serif, Times New Roman, serif" fill="#222" stroke="#222" stroke-width="0.48">1.5</text>
<text transform="translate(1331.80,997.50) scale(0.95,1)" font-size="14.0" text-anchor="end" font-family="Liberation Serif, Times New Roman, serif" fill="#222" stroke="#222" stroke-width="0.48">2.0</text>
<text transform="translate(1331.80,963.95) scale(0.95,1)" font-size="14.0" text-anchor="end" font-family="Liberation Serif, Times New Roman, serif" fill="#222" stroke="#222" stroke-width="0.48">2.5</text>
<text transform="translate(1331.80,930.40) scale(0.95,1)" font-size="14.0" text-anchor="end" font-family="Liberation Serif, Times New Roman, serif" fill="#222" stroke="#222" stroke-width="0.48">3.0</text>
<text transform="translate(1307.5,1017.8) rotate(-90) scale(1,1.0)" font-size="14.6" text-anchor="middle" font-family="Liberation Sans, Arial, Helvetica, sans-serif" fill="#222" stroke="#222" stroke-width="0.15">odds ratio</text>
<rect x="1345.50" y="899.2" width="70.1" height="237.20000000000005" fill="#EAEAF2"/>
<line x1="1345.50" x2="1415.60" y1="1126.60" y2="1126.60" stroke="#fff" stroke-width="1.6"/>
<line x1="1345.50" x2="1415.60" y1="1093.05" y2="1093.05" stroke="#fff" stroke-width="1.6"/>
<line x1="1345.50" x2="1415.60" y1="1059.50" y2="1059.50" stroke="#fff" stroke-width="1.6"/>
<line x1="1345.50" x2="1415.60" y1="1025.95" y2="1025.95" stroke="#fff" stroke-width="1.6"/>
<line x1="1345.50" x2="1415.60" y1="992.40" y2="992.40" stroke="#fff" stroke-width="1.6"/>
<line x1="1345.50" x2="1415.60" y1="958.85" y2="958.85" stroke="#fff" stroke-width="1.6"/>
<line x1="1345.50" x2="1415.60" y1="925.30" y2="925.30" stroke="#fff" stroke-width="1.6"/>
<line x1="1354.65" x2="1354.65" y1="899.2" y2="1136.4" stroke="#fff" stroke-width="1.6"/>
<line x1="1371.90" x2="1371.90" y1="899.2" y2="1136.4" stroke="#fff" stroke-width="1.6"/>
<line x1="1389.15" x2="1389.15" y1="899.2" y2="1136.4" stroke="#fff" stroke-width="1.6"/>
<line x1="1406.40" x2="1406.40" y1="899.2" y2="1136.4" stroke="#fff" stroke-width="1.6"/>
<rect x="1348.05" y="1059.50" width="13.2" height="7.75" fill="#E69F00" stroke="#fff" stroke-width="1.0"/>
<text transform="translate(1354.65,1157.90) scale(1,1.0)" font-size="12.6" text-anchor="middle" font-family="Liberation Sans, Arial, Helvetica, sans-serif" fill="#222" stroke="#222" stroke-width="0.25">1</text>
<rect x="1365.30" y="1051.48" width="13.2" height="8.02" fill="#E69F00" stroke="#fff" stroke-width="1.0"/>
<text transform="translate(1371.90,1157.90) scale(1,1.0)" font-size="12.6" text-anchor="middle" font-family="Liberation Sans, Arial, Helvetica, sans-serif" fill="#222" stroke="#222" stroke-width="0.25">2</text>
<rect x="1382.55" y="1046.25" width="13.2" height="13.25" fill="#E69F00" stroke="#fff" stroke-width="1.0"/>
<text transform="translate(1389.15,1157.90) scale(1,1.0)" font-size="12.6" text-anchor="middle" font-family="Liberation Sans, Arial, Helvetica, sans-serif" fill="#222" stroke="#222" stroke-width="0.25">3</text>
<rect x="1399.80" y="1051.48" width="13.2" height="8.02" fill="#E69F00" stroke="#fff" stroke-width="1.0"/>
<text transform="translate(1406.40,1157.90) scale(1,1.0)" font-size="12.6" text-anchor="middle" font-family="Liberation Sans, Arial, Helvetica, sans-serif" fill="#222" stroke="#222" stroke-width="0.25">4</text>
<text transform="translate(1380.55,1175.60) scale(1,1.0)" font-size="14.3" text-anchor="middle" font-family="Liberation Sans, Arial, Helvetica, sans-serif" fill="#222" stroke="#222" stroke-width="0.29">CEBPA</text>
<rect x="1436.00" y="899.2" width="70.1" height="237.20000000000005" fill="#EAEAF2"/>
<line x1="1436.00" x2="1506.10" y1="1126.60" y2="1126.60" stroke="#fff" stroke-width="1.6"/>
<line x1="1436.00" x2="1506.10" y1="1093.05" y2="1093.05" stroke="#fff" stroke-width="1.6"/>
<line x1="1436.00" x2="1506.10" y1="1059.50" y2="1059.50" stroke="#fff" stroke-width="1.6"/>
<line x1="1436.00" x2="1506.10" y1="1025.95" y2="1025.95" stroke="#fff" stroke-width="1.6"/>
<line x1="1436.00" x2="1506.10" y1="992.40" y2="992.40" stroke="#fff" stroke-width="1.6"/>
<line x1="1436.00" x2="1506.10" y1="958.85" y2="958.85" stroke="#fff" stroke-width="1.6"/>
<line x1="1436.00" x2="1506.10" y1="925.30" y2="925.30" stroke="#fff" stroke-width="1.6"/>
<line x1="1445.15" x2="1445.15" y1="899.2" y2="1136.4" stroke="#fff" stroke-width="1.6"/>
<line x1="1462.40" x2="1462.40" y1="899.2" y2="1136.4" stroke="#fff" stroke-width="1.6"/>
<line x1="1479.65" x2="1479.65" y1="899.2" y2="1136.4" stroke="#fff" stroke-width="1.6"/>
<line x1="1496.90" x2="1496.90" y1="899.2" y2="1136.4" stroke="#fff" stroke-width="1.6"/>
<rect x="1438.55" y="1035.52" width="13.2" height="23.98" fill="#56B4E9" stroke="#fff" stroke-width="1.0"/>
<text transform="translate(1445.15,1157.90) scale(1,1.0)" font-size="12.6" text-anchor="middle" font-family="Liberation Sans, Arial, Helvetica, sans-serif" fill="#222" stroke="#222" stroke-width="0.25">1</text>
<rect x="1455.80" y="1038.20" width="13.2" height="21.30" fill="#56B4E9" stroke="#fff" stroke-width="1.0"/>
<text transform="translate(1462.40,1157.90) scale(1,1.0)" font-size="12.6" text-anchor="middle" font-family="Liberation Sans, Arial, Helvetica, sans-serif" fill="#222" stroke="#222" stroke-width="0.25">2</text>
<rect x="1473.05" y="1059.50" width="13.2" height="12.98" fill="#56B4E9" stroke="#fff" stroke-width="1.0"/>
<text transform="translate(1479.65,1157.90) scale(1,1.0)" font-size="12.6" text-anchor="middle" font-family="Liberation Sans, Arial, Helvetica, sans-serif" fill="#222" stroke="#222" stroke-width="0.25">3</text>
<rect x="1490.30" y="1059.50" width="13.2" height="21.30" fill="#56B4E9" stroke="#fff" stroke-width="1.0"/>
<text transform="translate(1496.90,1157.90) scale(1,1.0)" font-size="12.6" text-anchor="middle" font-family="Liberation Sans, Arial, Helvetica, sans-serif" fill="#222" stroke="#222" stroke-width="0.25">4</text>
<text transform="translate(1471.05,1175.60) scale(1,1.0)" font-size="14.3" text-anchor="middle" font-family="Liberation Sans, Arial, Helvetica, sans-serif" fill="#222" stroke="#222" stroke-width="0.29">CTCF</text>
<rect x="1526.50" y="899.2" width="70.1" height="237.20000000000005" fill="#EAEAF2"/>
<line x1="1526.50" x2="1596.60" y1="1126.60" y2="1126.60" stroke="#fff" stroke-width="1.6"/>
<line x1="1526.50" x2="1596.60" y1="1093.05" y2="1093.05" stroke="#fff" stroke-width="1.6"/>
<line x1="1526.50" x2="1596.60" y1="1059.50" y2="1059.50" stroke="#fff" stroke-width="1.6"/>
<line x1="1526.50" x2="1596.60" y1="1025.95" y2="1025.95" stroke="#fff" stroke-width="1.6"/>
<line x1="1526.50" x2="1596.60" y1="992.40" y2="992.40" stroke="#fff" stroke-width="1.6"/>
<line x1="1526.50" x2="1596.60" y1="958.85" y2="958.85" stroke="#fff" stroke-width="1.6"/>
<line x1="1526.50" x2="1596.60" y1="925.30" y2="925.30" stroke="#fff" stroke-width="1.6"/>
<line x1="1535.65" x2="1535.65" y1="899.2" y2="1136.4" stroke="#fff" stroke-width="1.6"/>
<line x1="1552.90" x2="1552.90" y1="899.2" y2="1136.4" stroke="#fff" stroke-width="1.6"/>
<line x1="1570.15" x2="1570.15" y1="899.2" y2="1136.4" stroke="#fff" stroke-width="1.6"/>
<line x1="1587.40" x2="1587.40" y1="899.2" y2="1136.4" stroke="#fff" stroke-width="1.6"/>
<rect x="1529.05" y="1056.99" width="13.2" height="2.51" fill="#009E73" stroke="#fff" stroke-width="1.0"/>
<text transform="translate(1535.65,1157.90) scale(1,1.0)" font-size="12.6" text-anchor="middle" font-family="Liberation Sans, Arial, Helvetica, sans-serif" fill="#222" stroke="#222" stroke-width="0.25">1</text>
<rect x="1546.30" y="1059.50" width="13.2" height="5.00" fill="#009E73" stroke="#fff" stroke-width="1.0"/>
<text transform="translate(1552.90,1157.90) scale(1,1.0)" font-size="12.6" text-anchor="middle" font-family="Liberation Sans, Arial, Helvetica, sans-serif" fill="#222" stroke="#222" stroke-width="0.25">2</text>
<text transform="translate(1570.15,1157.90) scale(1,1.0)" font-size="12.6" text-anchor="middle" font-family="Liberation Sans, Arial, Helvetica, sans-serif" fill="#222" stroke="#222" stroke-width="0.25">3</text>
<rect x="1580.80" y="1059.50" width="13.2" height="12.98" fill="#009E73" stroke="#fff" stroke-width="1.0"/>
<text transform="translate(1587.40,1157.90) scale(1,1.0)" font-size="12.6" text-anchor="middle" font-family="Liberation Sans, Arial, Helvetica, sans-serif" fill="#222" stroke="#222" stroke-width="0.25">4</text>
<text transform="translate(1561.55,1175.60) scale(1,1.0)" font-size="14.3" text-anchor="middle" font-family="Liberation Sans, Arial, Helvetica, sans-serif" fill="#222" stroke="#222" stroke-width="0.29">FOXA1</text>
<rect x="1617.00" y="899.2" width="70.1" height="237.20000000000005" fill="#EAEAF2"/>
<line x1="1617.00" x2="1687.10" y1="1126.60" y2="1126.60" stroke="#fff" stroke-width="1.6"/>
<line x1="1617.00" x2="1687.10" y1="1093.05" y2="1093.05" stroke="#fff" stroke-width="1.6"/>
<line x1="1617.00" x2="1687.10" y1="1059.50" y2="1059.50" stroke="#fff" stroke-width="1.6"/>
<line x1="1617.00" x2="1687.10" y1="1025.95" y2="1025.95" stroke="#fff" stroke-width="1.6"/>
<line x1="1617.00" x2="1687.10" y1="992.40" y2="992.40" stroke="#fff" stroke-width="1.6"/>
<line x1="1617.00" x2="1687.10" y1="958.85" y2="958.85" stroke="#fff" stroke-width="1.6"/>
<line x1="1617.00" x2="1687.10" y1="925.30" y2="925.30" stroke="#fff" stroke-width="1.6"/>
<line x1="1626.15" x2="1626.15" y1="899.2" y2="1136.4" stroke="#fff" stroke-width="1.6"/>
<line x1="1643.40" x2="1643.40" y1="899.2" y2="1136.4" stroke="#fff" stroke-width="1.6"/>
<line x1="1660.65" x2="1660.65" y1="899.2" y2="1136.4" stroke="#fff" stroke-width="1.6"/>
<line x1="1677.90" x2="1677.90" y1="899.2" y2="1136.4" stroke="#fff" stroke-width="1.6"/>
<rect x="1619.55" y="1059.50" width="13.2" height="26.53" fill="#F0E442" stroke="#fff" stroke-width="1.0"/>
<text transform="translate(1626.15,1157.90) scale(1,1.0)" font-size="12.6" text-anchor="middle" font-family="Liberation Sans, Arial, Helvetica, sans-serif" fill="#222" stroke="#222" stroke-width="0.25">1</text>
<rect x="1636.80" y="1059.50" width="13.2" height="45.26" fill="#F0E442" stroke="#fff" stroke-width="1.0"/>
<text transform="translate(1650.55,1118.80) rotate(-90)" font-size="11.8" letter-spacing="1.26" font-family="Liberation Sans, Arial, Helvetica, sans-serif" fill="#2e2e2e" stroke="#2e2e2e" stroke-width="0.3">***</text>
<text transform="translate(1643.40,1157.90) scale(1,1.0)" font-size="12.6" text-anchor="middle" font-family="Liberation Sans, Arial, Helvetica, sans-serif" fill="#222" stroke="#222" stroke-width="0.25">2</text>
<rect x="1654.05" y="1059.50" width="13.2" height="45.26" fill="#F0E442" stroke="#fff" stroke-width="1.0"/>
<text transform="translate(1667.80,1118.80) rotate(-90)" font-size="11.8" letter-spacing="1.26" font-family="Liberation Sans, Arial, Helvetica, sans-serif" fill="#2e2e2e" stroke="#2e2e2e" stroke-width="0.3">***</text>
<text transform="translate(1660.65,1157.90) scale(1,1.0)" font-size="12.6" text-anchor="middle" font-family="Liberation Sans, Arial, Helvetica, sans-serif" fill="#222" stroke="#222" stroke-width="0.25">3</text>
<rect x="1671.30" y="1059.50" width="13.2" height="66.73" fill="#F0E442" stroke="#fff" stroke-width="1.0"/>
<text transform="translate(1685.05,1143.20) rotate(-90)" font-size="11.8" letter-spacing="1.26" font-family="Liberation Sans, Arial, Helvetica, sans-serif" fill="#2e2e2e" stroke="#2e2e2e" stroke-width="0.3">****</text>
<text transform="translate(1677.90,1157.90) scale(1,1.0)" font-size="12.6" text-anchor="middle" font-family="Liberation Sans, Arial, Helvetica, sans-serif" fill="#222" stroke="#222" stroke-width="0.25">4</text>
<text transform="translate(1652.05,1175.60) scale(1,1.0)" font-size="14.3" text-anchor="middle" font-family="Liberation Sans, Arial, Helvetica, sans-serif" fill="#222" stroke="#222" stroke-width="0.29">HNF1A</text>
<rect x="1707.50" y="899.2" width="70.1" height="237.20000000000005" fill="#EAEAF2"/>
<line x1="1707.50" x2="1777.60" y1="1126.60" y2="1126.60" stroke="#fff" stroke-width="1.6"/>
<line x1="1707.50" x2="1777.60" y1="1093.05" y2="1093.05" stroke="#fff" stroke-width="1.6"/>
<line x1="1707.50" x2="1777.60" y1="1059.50" y2="1059.50" stroke="#fff" stroke-width="1.6"/>
<line x1="1707.50" x2="1777.60" y1="1025.95" y2="1025.95" stroke="#fff" stroke-width="1.6"/>
<line x1="1707.50" x2="1777.60" y1="992.40" y2="992.40" stroke="#fff" stroke-width="1.6"/>
<line x1="1707.50" x2="1777.60" y1="958.85" y2="958.85" stroke="#fff" stroke-width="1.6"/>
<line x1="1707.50" x2="1777.60" y1="925.30" y2="925.30" stroke="#fff" stroke-width="1.6"/>
<line x1="1716.65" x2="1716.65" y1="899.2" y2="1136.4" stroke="#fff" stroke-width="1.6"/>
<line x1="1733.90" x2="1733.90" y1="899.2" y2="1136.4" stroke="#fff" stroke-width="1.6"/>
<line x1="1751.15" x2="1751.15" y1="899.2" y2="1136.4" stroke="#fff" stroke-width="1.6"/>
<line x1="1768.40" x2="1768.40" y1="899.2" y2="1136.4" stroke="#fff" stroke-width="1.6"/>
<rect x="1710.05" y="1056.99" width="13.2" height="2.51" fill="#0072B2" stroke="#fff" stroke-width="1.0"/>
<text transform="translate(1716.65,1157.90) scale(1,1.0)" font-size="12.6" text-anchor="middle" font-family="Liberation Sans, Arial, Helvetica, sans-serif" fill="#222" stroke="#222" stroke-width="0.25">1</text>
<rect x="1727.30" y="1049.00" width="13.2" height="10.50" fill="#0072B2" stroke="#fff" stroke-width="1.0"/>
<text transform="translate(1733.90,1157.90) scale(1,1.0)" font-size="12.6" text-anchor="middle" font-family="Liberation Sans, Arial, Helvetica, sans-serif" fill="#222" stroke="#222" stroke-width="0.25">2</text>
<rect x="1744.55" y="1032.76" width="13.2" height="26.74" fill="#0072B2" stroke="#fff" stroke-width="1.0"/>
<text transform="translate(1751.15,1157.90) scale(1,1.0)" font-size="12.6" text-anchor="middle" font-family="Liberation Sans, Arial, Helvetica, sans-serif" fill="#222" stroke="#222" stroke-width="0.25">3</text>
<rect x="1761.80" y="1022.23" width="13.2" height="37.27" fill="#0072B2" stroke="#fff" stroke-width="1.0"/>
<text transform="translate(1775.55,1021.55) rotate(-90)" font-size="11.8" letter-spacing="1.26" font-family="Liberation Sans, Arial, Helvetica, sans-serif" fill="#2e2e2e" stroke="#2e2e2e" stroke-width="0.3">**</text>
<text transform="translate(1768.40,1157.90) scale(1,1.0)" font-size="12.6" text-anchor="middle" font-family="Liberation Sans, Arial, Helvetica, sans-serif" fill="#222" stroke="#222" stroke-width="0.25">4</text>
<text transform="translate(1742.55,1175.60) scale(1,1.0)" font-size="14.3" text-anchor="middle" font-family="Liberation Sans, Arial, Helvetica, sans-serif" fill="#222" stroke="#222" stroke-width="0.29">ONECUT1</text>
<rect x="1798.00" y="899.2" width="70.1" height="237.20000000000005" fill="#EAEAF2"/>
<line x1="1798.00" x2="1868.10" y1="1126.60" y2="1126.60" stroke="#fff" stroke-width="1.6"/>
<line x1="1798.00" x2="1868.10" y1="1093.05" y2="1093.05" stroke="#fff" stroke-width="1.6"/>
<line x1="1798.00" x2="1868.10" y1="1059.50" y2="1059.50" stroke="#fff" stroke-width="1.6"/>
<line x1="1798.00" x2="1868.10" y1="1025.95" y2="1025.95" stroke="#fff" stroke-width="1.6"/>
<line x1="1798.00" x2="1868.10" y1="992.40" y2="992.40" stroke="#fff" stroke-width="1.6"/>
<line x1="1798.00" x2="1868.10" y1="958.85" y2="958.85" stroke="#fff" stroke-width="1.6"/>
<line x1="1798.00" x2="1868.10" y1="925.30" y2="925.30" stroke="#fff" stroke-width="1.6"/>
<line x1="1807.15" x2="1807.15" y1="899.2" y2="1136.4" stroke="#fff" stroke-width="1.6"/>
<line x1="1824.40" x2="1824.40" y1="899.2" y2="1136.4" stroke="#fff" stroke-width="1.6"/>
<line x1="1841.65" x2="1841.65" y1="899.2" y2="1136.4" stroke="#fff" stroke-width="1.6"/>
<line x1="1858.90" x2="1858.90" y1="899.2" y2="1136.4" stroke="#fff" stroke-width="1.6"/>
<rect x="1800.55" y="1011.49" width="13.2" height="48.01" fill="#D55E00" stroke="#fff" stroke-width="1.0"/>
<text transform="translate(1814.30,1013.74) rotate(-90)" font-size="11.8" letter-spacing="1.26" font-family="Liberation Sans, Arial, Helvetica, sans-serif" fill="#2e2e2e" stroke="#2e2e2e" stroke-width="0.3">***</text>
<text transform="translate(1807.15,1157.90) scale(1,1.0)" font-size="12.6" text-anchor="middle" font-family="Liberation Sans, Arial, Helvetica, sans-serif" fill="#222" stroke="#222" stroke-width="0.25">1</text>
<rect x="1817.80" y="1049.00" width="13.2" height="10.50" fill="#D55E00" stroke="#fff" stroke-width="1.0"/>
<text transform="translate(1824.40,1157.90) scale(1,1.0)" font-size="12.6" text-anchor="middle" font-family="Liberation Sans, Arial, Helvetica, sans-serif" fill="#222" stroke="#222" stroke-width="0.25">2</text>
<rect x="1835.05" y="1059.50" width="13.2" height="23.98" fill="#D55E00" stroke="#fff" stroke-width="1.0"/>
<text transform="translate(1841.65,1157.90) scale(1,1.0)" font-size="12.6" text-anchor="middle" font-family="Liberation Sans, Arial, Helvetica, sans-serif" fill="#222" stroke="#222" stroke-width="0.25">3</text>
<rect x="1852.30" y="1059.50" width="13.2" height="31.97" fill="#D55E00" stroke="#fff" stroke-width="1.0"/>
<text x="1857.70" y="1103.42" font-size="11.8" font-family="Liberation Sans, Arial, Helvetica, sans-serif" fill="#2e2e2e" stroke="#2e2e2e" stroke-width="0.3">*</text>
<text transform="translate(1858.90,1157.90) scale(1,1.0)" font-size="12.6" text-anchor="middle" font-family="Liberation Sans, Arial, Helvetica, sans-serif" fill="#222" stroke="#222" stroke-width="0.25">4</text>
<text transform="translate(1833.05,1175.60) scale(1,1.0)" font-size="14.3" text-anchor="middle" font-family="Liberation Sans, Arial, Helvetica, sans-serif" fill="#222" stroke="#222" stroke-width="0.29">PPARA</text>
<rect x="1888.50" y="899.2" width="70.1" height="237.20000000000005" fill="#EAEAF2"/>
<line x1="1888.50" x2="1958.60" y1="1126.60" y2="1126.60" stroke="#fff" stroke-width="1.6"/>
<line x1="1888.50" x2="1958.60" y1="1093.05" y2="1093.05" stroke="#fff" stroke-width="1.6"/>
<line x1="1888.50" x2="1958.60" y1="1059.50" y2="1059.50" stroke="#fff" stroke-width="1.6"/>
<line x1="1888.50" x2="1958.60" y1="1025.95" y2="1025.95" stroke="#fff" stroke-width="1.6"/>
<line x1="1888.50" x2="1958.60" y1="992.40" y2="992.40" stroke="#fff" stroke-width="1.6"/>
<line x1="1888.50" x2="1958.60" y1="958.85" y2="958.85" stroke="#fff" stroke-width="1.6"/>
<line x1="1888.50" x2="1958.60" y1="925.30" y2="925.30" stroke="#fff" stroke-width="1.6"/>
<line x1="1897.65" x2="1897.65" y1="899.2" y2="1136.4" stroke="#fff" stroke-width="1.6"/>
<line x1="1914.90" x2="1914.90" y1="899.2" y2="1136.4" stroke="#fff" stroke-width="1.6"/>
<line x1="1932.15" x2="1932.15" y1="899.2" y2="1136.4" stroke="#fff" stroke-width="1.6"/>
<line x1="1949.40" x2="1949.40" y1="899.2" y2="1136.4" stroke="#fff" stroke-width="1.6"/>
<rect x="1891.05" y="1059.50" width="13.2" height="37.27" fill="#CC79A7" stroke="#fff" stroke-width="1.0"/>
<text transform="translate(1904.80,1107.89) rotate(-90)" font-size="11.8" letter-spacing="1.26" font-family="Liberation Sans, Arial, Helvetica, sans-serif" fill="#2e2e2e" stroke="#2e2e2e" stroke-width="0.3">**</text>
<text transform="translate(1897.65,1157.90) scale(1,1.0)" font-size="12.6" text-anchor="middle" font-family="Liberation Sans, Arial, Helvetica, sans-serif" fill="#222" stroke="#222" stroke-width="0.25">1</text>
<rect x="1908.30" y="1059.50" width="13.2" height="34.52" fill="#CC79A7" stroke="#fff" stroke-width="1.0"/>
<text transform="translate(1922.05,1105.14) rotate(-90)" font-size="11.8" letter-spacing="1.26" font-family="Liberation Sans, Arial, Helvetica, sans-serif" fill="#2e2e2e" stroke="#2e2e2e" stroke-width="0.3">**</text>
<text transform="translate(1914.90,1157.90) scale(1,1.0)" font-size="12.6" text-anchor="middle" font-family="Liberation Sans, Arial, Helvetica, sans-serif" fill="#222" stroke="#222" stroke-width="0.25">2</text>
<rect x="1925.55" y="1059.50" width="13.2" height="45.26" fill="#CC79A7" stroke="#fff" stroke-width="1.0"/>
<text transform="translate(1939.30,1118.80) rotate(-90)" font-size="11.8" letter-spacing="1.26" font-family="Liberation Sans, Arial, Helvetica, sans-serif" fill="#2e2e2e" stroke="#2e2e2e" stroke-width="0.3">***</text>
<text transform="translate(1932.15,1157.90) scale(1,1.0)" font-size="12.6" text-anchor="middle" font-family="Liberation Sans, Arial, Helvetica, sans-serif" fill="#222" stroke="#222" stroke-width="0.25">3</text>
<rect x="1942.80" y="1059.50" width="13.2" height="61.49" fill="#CC79A7" stroke="#fff" stroke-width="1.0"/>
<text transform="translate(1956.55,1137.96) rotate(-90)" font-size="11.8" letter-spacing="1.26" font-family="Liberation Sans, Arial, Helvetica, sans-serif" fill="#2e2e2e" stroke="#2e2e2e" stroke-width="0.3">****</text>
<text transform="translate(1949.40,1157.90) scale(1,1.0)" font-size="12.6" text-anchor="middle" font-family="Liberation Sans, Arial, Helvetica, sans-serif" fill="#222" stroke="#222" stroke-width="0.25">4</text>
<text transform="translate(1923.55,1175.60) scale(1,1.0)" font-size="14.3" text-anchor="middle" font-family="Liberation Sans, Arial, Helvetica, sans-serif" fill="#222" stroke="#222" stroke-width="0.29">XBP1</text>
<rect x="1979.00" y="899.2" width="70.1" height="237.20000000000005" fill="#EAEAF2"/>
<line x1="1979.00" x2="2049.10" y1="1126.60" y2="1126.60" stroke="#fff" stroke-width="1.6"/>
<line x1="1979.00" x2="2049.10" y1="1093.05" y2="1093.05" stroke="#fff" stroke-width="1.6"/>
<line x1="1979.00" x2="2049.10" y1="1059.50" y2="1059.50" stroke="#fff" stroke-width="1.6"/>
<line x1="1979.00" x2="2049.10" y1="1025.95" y2="1025.95" stroke="#fff" stroke-width="1.6"/>
<line x1="1979.00" x2="2049.10" y1="992.40" y2="992.40" stroke="#fff" stroke-width="1.6"/>
<line x1="1979.00" x2="2049.10" y1="958.85" y2="958.85" stroke="#fff" stroke-width="1.6"/>
<line x1="1979.00" x2="2049.10" y1="925.30" y2="925.30" stroke="#fff" stroke-width="1.6"/>
<line x1="1988.15" x2="1988.15" y1="899.2" y2="1136.4" stroke="#fff" stroke-width="1.6"/>
<line x1="2005.40" x2="2005.40" y1="899.2" y2="1136.4" stroke="#fff" stroke-width="1.6"/>
<line x1="2022.65" x2="2022.65" y1="899.2" y2="1136.4" stroke="#fff" stroke-width="1.6"/>
<line x1="2039.90" x2="2039.90" y1="899.2" y2="1136.4" stroke="#fff" stroke-width="1.6"/>
<rect x="1981.55" y="1059.50" width="13.2" height="5.20" fill="#000000" stroke="#fff" stroke-width="1.0"/>
<text transform="translate(1988.15,1157.90) scale(1,1.0)" font-size="12.6" text-anchor="middle" font-family="Liberation Sans, Arial, Helvetica, sans-serif" fill="#222" stroke="#222" stroke-width="0.25">1</text>
<rect x="1998.80" y="1024.78" width="13.2" height="34.72" fill="#000000" stroke="#fff" stroke-width="1.0"/>
<text x="2004.20" y="1024.93" font-size="11.8" font-family="Liberation Sans, Arial, Helvetica, sans-serif" fill="#2e2e2e" stroke="#2e2e2e" stroke-width="0.3">*</text>
<text transform="translate(2005.40,1157.90) scale(1,1.0)" font-size="12.6" text-anchor="middle" font-family="Liberation Sans, Arial, Helvetica, sans-serif" fill="#222" stroke="#222" stroke-width="0.25">2</text>
<rect x="2016.05" y="971.50" width="13.2" height="88.00" fill="#000000" stroke="#fff" stroke-width="1.0"/>
<text transform="translate(2029.80,976.67) rotate(-90)" font-size="11.8" letter-spacing="1.26" font-family="Liberation Sans, Arial, Helvetica, sans-serif" fill="#2e2e2e" stroke="#2e2e2e" stroke-width="0.3">****</text>
<text transform="translate(2022.65,1157.90) scale(1,1.0)" font-size="12.6" text-anchor="middle" font-family="Liberation Sans, Arial, Helvetica, sans-serif" fill="#222" stroke="#222" stroke-width="0.25">3</text>
<rect x="2033.30" y="909.77" width="13.2" height="149.73" fill="#000000" stroke="#fff" stroke-width="1.0"/>
<text transform="translate(2047.05,914.94) rotate(-90)" font-size="11.8" letter-spacing="1.26" font-family="Liberation Sans, Arial, Helvetica, sans-serif" fill="#2e2e2e" stroke="#2e2e2e" stroke-width="0.3">****</text>
<text transform="translate(2039.90,1157.90) scale(1,1.0)" font-size="12.6" text-anchor="middle" font-family="Liberation Sans, Arial, Helvetica, sans-serif" fill="#222" stroke="#222" stroke-width="0.25">4</text>
<text transform="translate(2014.05,1175.60) scale(1,1.0)" font-size="14.3" text-anchor="middle" font-family="Liberation Sans, Arial, Helvetica, sans-serif" fill="#222" stroke="#222" stroke-width="0.29">REST</text>
</svg>
</body></html>
